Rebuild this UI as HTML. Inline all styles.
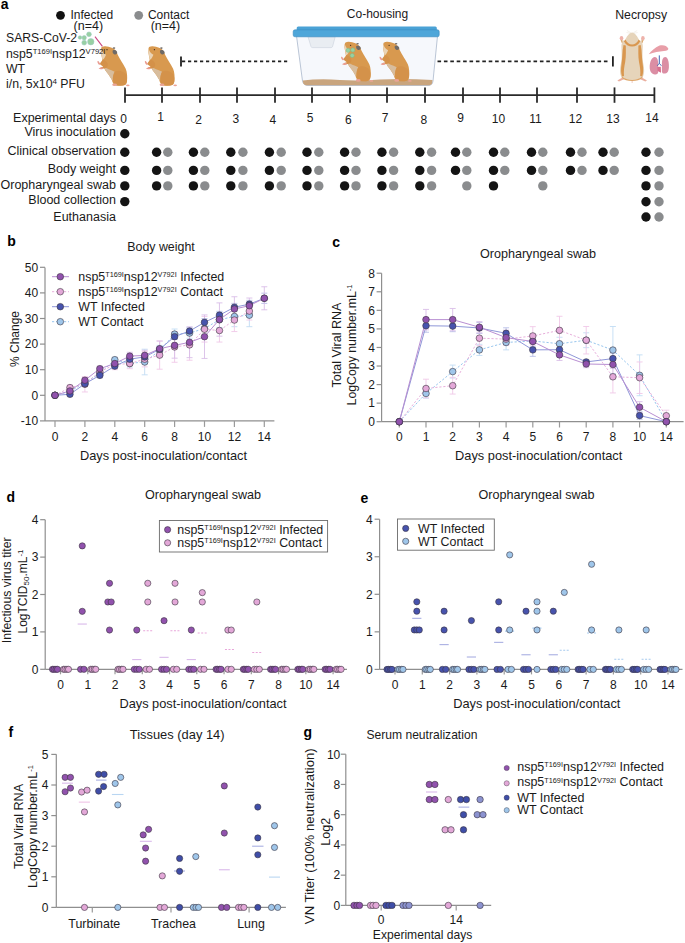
<!DOCTYPE html>
<html><head><meta charset="utf-8"><style>
html,body{margin:0;padding:0;background:#fff;}
svg{display:block;}
text{font-family:"Liberation Sans", sans-serif;}
</style></head><body>
<svg width="685" height="943" viewBox="0 0 685 943">
<rect width="685" height="943" fill="#fff"/>
<g transform="translate(97.2,46.2)">
<path d="M4.4,0.9 C5.5,0.2 7,-0.1 8,0 C10.5,0.2 12.5,0.6 14.5,1.5 C17.5,2.5 19.5,5 20.5,8.5 C22.5,12.5 26,17.5 28.5,22.5 C30,26 30.2,31 29.8,35 C29.5,38 28,39.2 25,39.4 L19,39.3 C16.5,39 15.2,36.5 14.6,33.6 C13,30.5 10.5,27 8.2,24.2 C6.5,21.5 5.5,18.5 5.3,15.5 C5,12.5 4.4,10 4,7.5 C3.6,5 3.5,3 4.4,0.9 Z" fill="#d8994f"/>
<path d="M6.8,21 C9.5,22 13,23.5 17.5,25.5 C16,28 15.5,31 15.5,34 C15,34.5 14.8,34 14.6,33.6 C13,30.5 10.5,27 8.2,24.2 Z" fill="#d8bd9d"/>
<path d="M3.8,2 C4.5,4.5 6,7 8.8,8.5 C8,10.5 7,12.5 5.3,13.7 C5,12.5 4.6,10 4.1,7.5 C3.7,5 3.5,3.5 3.8,2 Z" fill="#ead3b5"/>
<path d="M17.5,25.5 C21,23.5 26,24.5 28.5,28 C30.5,31.5 30,36.5 28,38.6 C25,40 20,39.8 17.2,38.3 C15.5,36 15.3,30 17.5,25.5 Z" fill="#d4924a"/>
<path d="M5.5,13.5 C7.5,13.5 9.5,15 10.5,17.5 C11,20 9.5,22 7,22.3 L3.5,22.6 L3.3,21.3 L6,20.5 L2.5,17.8 L3.2,16.5 Z" fill="#d49149"/>
<path d="M0.3,15 C1,14.6 1.6,15.2 2,16 L3.4,17.8 C2.8,18.7 2,18.7 1.5,18.2 C0.8,17.3 0,16 0.3,15 Z" fill="#e99c90"/>
<path d="M1.3,22.4 C2.3,21.4 4,21 5.8,21.3 L5.8,22.7 C4,23.3 2.5,23.3 1.3,22.4 Z" fill="#e99c90"/>
<ellipse cx="17.4" cy="38.6" rx="2.4" ry="1.3" fill="#e9a497"/>
<ellipse cx="30.6" cy="39.1" rx="1.8" ry="0.9" fill="#e9a497"/>
<path d="M15.5,4.3 C17,3.4 19,3.8 19.9,5.8 C20.3,7.6 19,8.5 17.3,8.2 C15.7,7.8 15,6 15.5,4.3 Z" fill="#6f6a66"/>
<ellipse cx="16.8" cy="1.9" rx="1.3" ry="0.8" fill="#6f6a66"/>
<circle cx="9.8" cy="3.5" r="0.65" fill="#3a2a20"/>
</g>
<g transform="translate(144.6,46.2)">
<path d="M4.4,0.9 C5.5,0.2 7,-0.1 8,0 C10.5,0.2 12.5,0.6 14.5,1.5 C17.5,2.5 19.5,5 20.5,8.5 C22.5,12.5 26,17.5 28.5,22.5 C30,26 30.2,31 29.8,35 C29.5,38 28,39.2 25,39.4 L19,39.3 C16.5,39 15.2,36.5 14.6,33.6 C13,30.5 10.5,27 8.2,24.2 C6.5,21.5 5.5,18.5 5.3,15.5 C5,12.5 4.4,10 4,7.5 C3.6,5 3.5,3 4.4,0.9 Z" fill="#d8994f"/>
<path d="M6.8,21 C9.5,22 13,23.5 17.5,25.5 C16,28 15.5,31 15.5,34 C15,34.5 14.8,34 14.6,33.6 C13,30.5 10.5,27 8.2,24.2 Z" fill="#d8bd9d"/>
<path d="M3.8,2 C4.5,4.5 6,7 8.8,8.5 C8,10.5 7,12.5 5.3,13.7 C5,12.5 4.6,10 4.1,7.5 C3.7,5 3.5,3.5 3.8,2 Z" fill="#ead3b5"/>
<path d="M17.5,25.5 C21,23.5 26,24.5 28.5,28 C30.5,31.5 30,36.5 28,38.6 C25,40 20,39.8 17.2,38.3 C15.5,36 15.3,30 17.5,25.5 Z" fill="#d4924a"/>
<path d="M5.5,13.5 C7.5,13.5 9.5,15 10.5,17.5 C11,20 9.5,22 7,22.3 L3.5,22.6 L3.3,21.3 L6,20.5 L2.5,17.8 L3.2,16.5 Z" fill="#d49149"/>
<path d="M0.3,15 C1,14.6 1.6,15.2 2,16 L3.4,17.8 C2.8,18.7 2,18.7 1.5,18.2 C0.8,17.3 0,16 0.3,15 Z" fill="#e99c90"/>
<path d="M1.3,22.4 C2.3,21.4 4,21 5.8,21.3 L5.8,22.7 C4,23.3 2.5,23.3 1.3,22.4 Z" fill="#e99c90"/>
<ellipse cx="17.4" cy="38.6" rx="2.4" ry="1.3" fill="#e9a497"/>
<ellipse cx="30.6" cy="39.1" rx="1.8" ry="0.9" fill="#e9a497"/>
<path d="M15.5,4.3 C17,3.4 19,3.8 19.9,5.8 C20.3,7.6 19,8.5 17.3,8.2 C15.7,7.8 15,6 15.5,4.3 Z" fill="#6f6a66"/>
<ellipse cx="16.8" cy="1.9" rx="1.3" ry="0.8" fill="#6f6a66"/>
<circle cx="9.8" cy="3.5" r="0.65" fill="#3a2a20"/>
</g>
<text x="0.8" y="8.7" font-size="14" text-anchor="start" font-weight="bold" fill="#000" >a</text>
<circle cx="60.5" cy="15.3" r="4.4" fill="#111"/>
<text x="70.4" y="18.6" font-size="12" text-anchor="start" font-weight="normal" fill="#1a1a1a" >Infected</text>
<text x="73.6" y="29.5" font-size="12.5" text-anchor="start" font-weight="normal" fill="#1a1a1a" >(n=4)</text>
<circle cx="138.7" cy="15.3" r="4.4" fill="#8a8c8e"/>
<text x="147.9" y="18.6" font-size="12" text-anchor="start" font-weight="normal" fill="#1a1a1a" >Contact</text>
<text x="150.7" y="29.5" font-size="12.5" text-anchor="start" font-weight="normal" fill="#1a1a1a" >(n=4)</text>
<text x="6" y="41.6" font-size="12.2" text-anchor="start" font-weight="normal" fill="#1a1a1a" >SARS-CoV-2</text>
<text x="6" y="57.6" font-size="12.3" fill="#1a1a1a">nsp5<tspan dy="-3.7" font-size="7.6">T169I</tspan><tspan dy="3.7">nsp12</tspan><tspan dy="-3.7" font-size="7.6">V792I</tspan><tspan dy="3.7"></tspan></text>
<text x="6" y="73" font-size="12.3" text-anchor="start" font-weight="normal" fill="#1a1a1a" >WT</text>
<text x="6" y="88.1" font-size="12.3" fill="#1a1a1a">i/n, 5x10<tspan dy="-4.2" font-size="8">4</tspan><tspan dy="4.2"> PFU</tspan></text>
<text x="377.5" y="18.1" font-size="12" text-anchor="middle" font-weight="normal" fill="#1a1a1a" >Co-housing</text>
<text x="641.2" y="19.2" font-size="12.3" text-anchor="middle" font-weight="normal" fill="#1a1a1a" >Necropsy</text>
<circle cx="89" cy="34.3" r="2.4" fill="#98d0a2" stroke="#9cc9c4" stroke-width="0.5"/>
<circle cx="80" cy="37.5" r="1.8" fill="#98d0a2" stroke="#9cc9c4" stroke-width="0.5"/>
<circle cx="84.2" cy="37.7" r="2.2" fill="#98d0a2" stroke="#9cc9c4" stroke-width="0.5"/>
<circle cx="84.2" cy="42.7" r="2.4" fill="#98d0a2" stroke="#9cc9c4" stroke-width="0.5"/>
<circle cx="90.8" cy="41.7" r="3.2" fill="#98d0a2" stroke="#9cc9c4" stroke-width="0.5"/>
<line x1="95.00" y1="36.70" x2="102.40" y2="46.40" stroke="#c9457f" stroke-width="1.1" />
<line x1="181.00" y1="56.40" x2="181.00" y2="66.40" stroke="#222" stroke-width="1.8" />
<line x1="182.00" y1="61.30" x2="289.00" y2="61.30" stroke="#222" stroke-width="1.8" stroke-dasharray="3.2 2.8"/>
<line x1="437.50" y1="61.40" x2="610.00" y2="61.40" stroke="#222" stroke-width="1.8" stroke-dasharray="3.6 2.8"/>
<line x1="612.90" y1="56.20" x2="612.90" y2="66.60" stroke="#222" stroke-width="1.8" />
<path d="M296.5,36 L302.5,81 Q303.5,85.5 308,85.5 L428,85.5 Q432.5,85.5 433,81 L437.5,36 Z" fill="#f6f8fc" stroke="#a9b8cc" stroke-width="0.8"/>
<path d="M308,36.8 L335.2,36.8 L332.5,46.8 Q332,47.6 331,47.6 L312.5,47.6 Q311.3,47.6 311,46.6 Z" fill="#e9edf2" stroke="#c3cbd6" stroke-width="0.5"/>
<path d="M302.8,80.5 Q320,78.5 340,80 Q360,81 380,79.5 Q405,78.5 432.5,80 L432,83.5 Q431.5,85.3 428,85.3 L308,85.3 Q303.7,85.3 303.2,83 Z" fill="#c9a57e"/>
<rect x="296.7" y="26.5" width="140.1" height="5" rx="1.5" fill="#4aa2d6"/>
<rect x="293.2" y="29.8" width="146" height="7" rx="1.8" fill="#4ea6d9" stroke="#3b8cc0" stroke-width="0.6"/>
<g transform="translate(340.8,41.8)">
<path d="M4.4,0.9 C5.5,0.2 7,-0.1 8,0 C10.5,0.2 12.5,0.6 14.5,1.5 C17.5,2.5 19.5,5 20.5,8.5 C22.5,12.5 26,17.5 28.5,22.5 C30,26 30.2,31 29.8,35 C29.5,38 28,39.2 25,39.4 L19,39.3 C16.5,39 15.2,36.5 14.6,33.6 C13,30.5 10.5,27 8.2,24.2 C6.5,21.5 5.5,18.5 5.3,15.5 C5,12.5 4.4,10 4,7.5 C3.6,5 3.5,3 4.4,0.9 Z" fill="#d8994f"/>
<path d="M6.8,21 C9.5,22 13,23.5 17.5,25.5 C16,28 15.5,31 15.5,34 C15,34.5 14.8,34 14.6,33.6 C13,30.5 10.5,27 8.2,24.2 Z" fill="#d8bd9d"/>
<path d="M3.8,2 C4.5,4.5 6,7 8.8,8.5 C8,10.5 7,12.5 5.3,13.7 C5,12.5 4.6,10 4.1,7.5 C3.7,5 3.5,3.5 3.8,2 Z" fill="#ead3b5"/>
<path d="M17.5,25.5 C21,23.5 26,24.5 28.5,28 C30.5,31.5 30,36.5 28,38.6 C25,40 20,39.8 17.2,38.3 C15.5,36 15.3,30 17.5,25.5 Z" fill="#d4924a"/>
<path d="M5.5,13.5 C7.5,13.5 9.5,15 10.5,17.5 C11,20 9.5,22 7,22.3 L3.5,22.6 L3.3,21.3 L6,20.5 L2.5,17.8 L3.2,16.5 Z" fill="#d49149"/>
<path d="M0.3,15 C1,14.6 1.6,15.2 2,16 L3.4,17.8 C2.8,18.7 2,18.7 1.5,18.2 C0.8,17.3 0,16 0.3,15 Z" fill="#e99c90"/>
<path d="M1.3,22.4 C2.3,21.4 4,21 5.8,21.3 L5.8,22.7 C4,23.3 2.5,23.3 1.3,22.4 Z" fill="#e99c90"/>
<ellipse cx="17.4" cy="38.6" rx="2.4" ry="1.3" fill="#e9a497"/>
<ellipse cx="30.6" cy="39.1" rx="1.8" ry="0.9" fill="#e9a497"/>
<path d="M15.5,4.3 C17,3.4 19,3.8 19.9,5.8 C20.3,7.6 19,8.5 17.3,8.2 C15.7,7.8 15,6 15.5,4.3 Z" fill="#6f6a66"/>
<ellipse cx="16.8" cy="1.9" rx="1.3" ry="0.8" fill="#6f6a66"/>
<circle cx="9.8" cy="3.5" r="0.65" fill="#3a2a20"/>
</g>
<g transform="translate(379.3,41.8)">
<path d="M4.4,0.9 C5.5,0.2 7,-0.1 8,0 C10.5,0.2 12.5,0.6 14.5,1.5 C17.5,2.5 19.5,5 20.5,8.5 C22.5,12.5 26,17.5 28.5,22.5 C30,26 30.2,31 29.8,35 C29.5,38 28,39.2 25,39.4 L19,39.3 C16.5,39 15.2,36.5 14.6,33.6 C13,30.5 10.5,27 8.2,24.2 C6.5,21.5 5.5,18.5 5.3,15.5 C5,12.5 4.4,10 4,7.5 C3.6,5 3.5,3 4.4,0.9 Z" fill="#d8994f"/>
<path d="M6.8,21 C9.5,22 13,23.5 17.5,25.5 C16,28 15.5,31 15.5,34 C15,34.5 14.8,34 14.6,33.6 C13,30.5 10.5,27 8.2,24.2 Z" fill="#d8bd9d"/>
<path d="M3.8,2 C4.5,4.5 6,7 8.8,8.5 C8,10.5 7,12.5 5.3,13.7 C5,12.5 4.6,10 4.1,7.5 C3.7,5 3.5,3.5 3.8,2 Z" fill="#ead3b5"/>
<path d="M17.5,25.5 C21,23.5 26,24.5 28.5,28 C30.5,31.5 30,36.5 28,38.6 C25,40 20,39.8 17.2,38.3 C15.5,36 15.3,30 17.5,25.5 Z" fill="#d4924a"/>
<path d="M5.5,13.5 C7.5,13.5 9.5,15 10.5,17.5 C11,20 9.5,22 7,22.3 L3.5,22.6 L3.3,21.3 L6,20.5 L2.5,17.8 L3.2,16.5 Z" fill="#d49149"/>
<path d="M0.3,15 C1,14.6 1.6,15.2 2,16 L3.4,17.8 C2.8,18.7 2,18.7 1.5,18.2 C0.8,17.3 0,16 0.3,15 Z" fill="#e99c90"/>
<path d="M1.3,22.4 C2.3,21.4 4,21 5.8,21.3 L5.8,22.7 C4,23.3 2.5,23.3 1.3,22.4 Z" fill="#e99c90"/>
<ellipse cx="17.4" cy="38.6" rx="2.4" ry="1.3" fill="#e9a497"/>
<ellipse cx="30.6" cy="39.1" rx="1.8" ry="0.9" fill="#e9a497"/>
<path d="M15.5,4.3 C17,3.4 19,3.8 19.9,5.8 C20.3,7.6 19,8.5 17.3,8.2 C15.7,7.8 15,6 15.5,4.3 Z" fill="#6f6a66"/>
<ellipse cx="16.8" cy="1.9" rx="1.3" ry="0.8" fill="#6f6a66"/>
<circle cx="9.8" cy="3.5" r="0.65" fill="#3a2a20"/>
</g>
<circle cx="348.1" cy="50.3" r="2.1" fill="#98d0a2" stroke="#78bb8a" stroke-width="0.5"/>
<circle cx="352.8" cy="50" r="2.1" fill="#98d0a2" stroke="#78bb8a" stroke-width="0.5"/>
<circle cx="352.2" cy="55.5" r="2.1" fill="#98d0a2" stroke="#78bb8a" stroke-width="0.5"/>
<g>
<path d="M617.3,80.5 L622.5,77.5 L624,79.2 L619,81.6 Z" fill="#eab0a0"/>
<path d="M647,80.5 L641.8,77.5 L640.3,79.2 L645.3,81.6 Z" fill="#eab0a0"/>
<path d="M632.1,79 L631.6,82.7 L632.6,82.7 Z" fill="#eab0a0"/>
<path d="M623.8,44 L621.6,39.5 M640.4,44 L642.6,39.5" stroke="#e6d4ba" stroke-width="2.6" fill="none"/>
<path d="M622.6,43.5 L621,39.5 M641.6,43.5 L643.2,39.5" stroke="#d9974f" stroke-width="0.8" fill="none"/>
<ellipse cx="621.5" cy="38.2" rx="1.8" ry="2.1" fill="#eeb2aa"/>
<ellipse cx="642.9" cy="38.2" rx="1.8" ry="2.1" fill="#eeb2aa"/>
<path d="M632.1,32.4 C634.8,32.6 637.8,36.5 639.2,40.5 C641.5,41.5 642.8,43 642.8,46 C642.6,52 642.2,56 643,62 C644.3,68 644.8,73 643,76.5 C641,79 637,80 632.1,80.3 C627.2,80 623.2,79 621.2,76.5 C619.4,73 619.9,68 621.2,62 C622,56 621.6,52 621.4,46 C621.4,43 622.7,41.5 625,40.5 C626.4,36.5 629.4,32.6 632.1,32.4 Z" fill="#e6d4ba"/>
<path d="M623.5,45 C622,52 622.5,58 621.5,64 C620.8,69 620.8,73 622,76.5 L624,76 C623.5,71 624.2,67 625.2,62 C626.2,56 625.8,50 625.8,45.5 Z" fill="#d9974f"/>
<path d="M640.7,45 C642.2,52 641.7,58 642.7,64 C643.4,69 643.4,73 642.2,76.5 L640.2,76 C640.7,71 640,67 639,62 C638,56 638.4,50 638.4,45.5 Z" fill="#d9974f"/>
<path d="M625.5,39.5 C627,43 629.5,44.6 632.1,44.6 C634.7,44.6 637.2,43 638.7,39.5 L640.3,41.2 C638.7,44.8 635.5,46.4 632.1,46.4 C628.7,46.4 625.5,44.8 623.9,41.2 Z" fill="#d9974f"/>
<path d="M621.8,76.5 C624.5,79 628,79.8 632.1,80 C636.2,79.8 639.7,79 642.4,76.5 L642.6,77.5 C640.2,80.2 636.5,81 632.1,81.1 C627.7,81 624,80.2 621.6,77.5 Z" fill="#dda466"/>
<path d="M627,30.5 L631,32.8 M637.2,30.5 L633.2,32.8 M626.5,32.5 L630.8,33.4 M637.7,32.5 L633.4,33.4" stroke="#e6dccc" stroke-width="0.4"/>
</g>
<g>
<path d="M648.8,54.3 C651,51 655,47.5 659.5,45.5 C663,44.5 667,45.5 668.3,48.5 C668.5,50 667,50.8 664,51 C659,51.3 654,52.5 648.8,54.3 Z" fill="#e89ea8"/>
<path d="M654.9,56.9 C657.2,56.9 658.2,60 658.2,64 L658.2,72 C658,74 656.5,74.6 654.9,74.4 C651.5,74 649.7,71 649.7,67.4 C649.7,62 651.5,57 654.9,56.9 Z" fill="#db8ea4"/>
<path d="M665.2,56.9 C662.9,56.9 661.9,60 661.9,64 L661.9,71.5 C662.2,73.5 663.5,73.8 665.2,73.5 C668,73 668.9,70 668.9,66.5 C668.9,61 667.8,57 665.2,56.9 Z" fill="#db8ea4"/>
<path d="M657.4,67 L660.8,66.8 L661,72.7 L657.6,71 Z" fill="#d8708e"/>
<line x1="659.3" y1="55.4" x2="659.3" y2="63.5" stroke="#3d65b5" stroke-width="1"/>
<path d="M659.3,63.3 L657.2,65.8 M659.3,63.3 L661.4,65.8" stroke="#3d65b5" stroke-width="0.9" fill="none"/>
</g>
<line x1="125.00" y1="95.10" x2="654.40" y2="95.10" stroke="#2a2a2a" stroke-width="1.8" />
<line x1="125.00" y1="87.40" x2="125.00" y2="102.80" stroke="#2a2a2a" stroke-width="1.8" />
<line x1="162.00" y1="87.40" x2="162.00" y2="102.80" stroke="#2a2a2a" stroke-width="1.8" />
<line x1="200.00" y1="87.40" x2="200.00" y2="102.80" stroke="#2a2a2a" stroke-width="1.8" />
<line x1="237.00" y1="87.40" x2="237.00" y2="102.80" stroke="#2a2a2a" stroke-width="1.8" />
<line x1="275.00" y1="87.40" x2="275.00" y2="102.80" stroke="#2a2a2a" stroke-width="1.8" />
<line x1="312.00" y1="87.40" x2="312.00" y2="102.80" stroke="#2a2a2a" stroke-width="1.8" />
<line x1="350.00" y1="87.40" x2="350.00" y2="102.80" stroke="#2a2a2a" stroke-width="1.8" />
<line x1="387.00" y1="87.40" x2="387.00" y2="102.80" stroke="#2a2a2a" stroke-width="1.8" />
<line x1="425.00" y1="87.40" x2="425.00" y2="102.80" stroke="#2a2a2a" stroke-width="1.8" />
<line x1="463.00" y1="87.40" x2="463.00" y2="102.80" stroke="#2a2a2a" stroke-width="1.8" />
<line x1="500.00" y1="87.40" x2="500.00" y2="102.80" stroke="#2a2a2a" stroke-width="1.8" />
<line x1="537.00" y1="87.40" x2="537.00" y2="102.80" stroke="#2a2a2a" stroke-width="1.8" />
<line x1="577.00" y1="87.40" x2="577.00" y2="102.80" stroke="#2a2a2a" stroke-width="1.8" />
<line x1="614.50" y1="87.40" x2="614.50" y2="102.80" stroke="#2a2a2a" stroke-width="1.8" />
<line x1="654.40" y1="87.40" x2="654.40" y2="102.80" stroke="#2a2a2a" stroke-width="1.8" />
<text x="123.5" y="123.2" font-size="12" text-anchor="middle" font-weight="normal" fill="#1a1a1a" >0</text>
<text x="160.5" y="121" font-size="12" text-anchor="middle" font-weight="normal" fill="#1a1a1a" >1</text>
<text x="198.7" y="124" font-size="12" text-anchor="middle" font-weight="normal" fill="#1a1a1a" >2</text>
<text x="235.8" y="122.5" font-size="12" text-anchor="middle" font-weight="normal" fill="#1a1a1a" >3</text>
<text x="272.8" y="123.8" font-size="12" text-anchor="middle" font-weight="normal" fill="#1a1a1a" >4</text>
<text x="310" y="121.8" font-size="12" text-anchor="middle" font-weight="normal" fill="#1a1a1a" >5</text>
<text x="348.3" y="124" font-size="12" text-anchor="middle" font-weight="normal" fill="#1a1a1a" >6</text>
<text x="385.2" y="121.5" font-size="12" text-anchor="middle" font-weight="normal" fill="#1a1a1a" >7</text>
<text x="423.9" y="123.5" font-size="12" text-anchor="middle" font-weight="normal" fill="#1a1a1a" >8</text>
<text x="460.5" y="121.5" font-size="12" text-anchor="middle" font-weight="normal" fill="#1a1a1a" >9</text>
<text x="498.5" y="123" font-size="12" text-anchor="middle" font-weight="normal" fill="#1a1a1a" >10</text>
<text x="535.5" y="123" font-size="12" text-anchor="middle" font-weight="normal" fill="#1a1a1a" >11</text>
<text x="575.5" y="123" font-size="12" text-anchor="middle" font-weight="normal" fill="#1a1a1a" >12</text>
<text x="613" y="123" font-size="12" text-anchor="middle" font-weight="normal" fill="#1a1a1a" >13</text>
<text x="652" y="121.5" font-size="12" text-anchor="middle" font-weight="normal" fill="#1a1a1a" >14</text>
<text x="115.9" y="121.5" font-size="12.5" text-anchor="end" font-weight="normal" fill="#1a1a1a" >Experimental days</text>
<text x="115.9" y="135.8" font-size="12.5" text-anchor="end" font-weight="normal" fill="#1a1a1a" >Virus inoculation</text>
<text x="115.9" y="155" font-size="12.5" text-anchor="end" font-weight="normal" fill="#1a1a1a" >Clinical observation</text>
<text x="115.9" y="172.8" font-size="12.5" text-anchor="end" font-weight="normal" fill="#1a1a1a" >Body weight</text>
<text x="115.9" y="189.3" font-size="12.5" text-anchor="end" font-weight="normal" fill="#1a1a1a" >Oropharyngeal swab</text>
<text x="115.9" y="204" font-size="12.5" text-anchor="end" font-weight="normal" fill="#1a1a1a" >Blood collection</text>
<text x="115.9" y="220.8" font-size="12.5" text-anchor="end" font-weight="normal" fill="#1a1a1a" >Euthanasia</text>
<circle cx="124.8" cy="133.7" r="4.7" fill="#141414"/>
<circle cx="124.8" cy="152.2" r="4.7" fill="#141414"/>
<circle cx="124.8" cy="170.4" r="4.7" fill="#141414"/>
<circle cx="124.8" cy="185.9" r="4.7" fill="#141414"/>
<circle cx="124.8" cy="201.6" r="4.7" fill="#141414"/>
<circle cx="156.6" cy="152.2" r="4.7" fill="#141414"/>
<circle cx="167.8" cy="152.2" r="4.7" fill="#8a8c8e"/>
<circle cx="156.6" cy="170.4" r="4.7" fill="#141414"/>
<circle cx="167.8" cy="170.4" r="4.7" fill="#8a8c8e"/>
<circle cx="156.6" cy="185.9" r="4.7" fill="#141414"/>
<circle cx="167.8" cy="185.9" r="4.7" fill="#8a8c8e"/>
<circle cx="193.4" cy="152.2" r="4.7" fill="#141414"/>
<circle cx="204.8" cy="152.2" r="4.7" fill="#8a8c8e"/>
<circle cx="193.4" cy="170.4" r="4.7" fill="#141414"/>
<circle cx="204.8" cy="170.4" r="4.7" fill="#8a8c8e"/>
<circle cx="193.4" cy="185.9" r="4.7" fill="#141414"/>
<circle cx="204.8" cy="185.9" r="4.7" fill="#8a8c8e"/>
<circle cx="230.8" cy="152.2" r="4.7" fill="#141414"/>
<circle cx="242.9" cy="152.2" r="4.7" fill="#8a8c8e"/>
<circle cx="230.8" cy="170.4" r="4.7" fill="#141414"/>
<circle cx="242.9" cy="170.4" r="4.7" fill="#8a8c8e"/>
<circle cx="230.8" cy="185.9" r="4.7" fill="#141414"/>
<circle cx="242.9" cy="185.9" r="4.7" fill="#8a8c8e"/>
<circle cx="269.4" cy="152.2" r="4.7" fill="#141414"/>
<circle cx="281.2" cy="152.2" r="4.7" fill="#8a8c8e"/>
<circle cx="269.4" cy="170.4" r="4.7" fill="#141414"/>
<circle cx="281.2" cy="170.4" r="4.7" fill="#8a8c8e"/>
<circle cx="269.4" cy="185.9" r="4.7" fill="#141414"/>
<circle cx="281.2" cy="185.9" r="4.7" fill="#8a8c8e"/>
<circle cx="307" cy="152.2" r="4.7" fill="#141414"/>
<circle cx="318.8" cy="152.2" r="4.7" fill="#8a8c8e"/>
<circle cx="307" cy="170.4" r="4.7" fill="#141414"/>
<circle cx="318.8" cy="170.4" r="4.7" fill="#8a8c8e"/>
<circle cx="307" cy="185.9" r="4.7" fill="#141414"/>
<circle cx="318.8" cy="185.9" r="4.7" fill="#8a8c8e"/>
<circle cx="344.6" cy="152.2" r="4.7" fill="#141414"/>
<circle cx="356" cy="152.2" r="4.7" fill="#8a8c8e"/>
<circle cx="344.6" cy="170.4" r="4.7" fill="#141414"/>
<circle cx="356" cy="170.4" r="4.7" fill="#8a8c8e"/>
<circle cx="344.6" cy="185.9" r="4.7" fill="#141414"/>
<circle cx="356" cy="185.9" r="4.7" fill="#8a8c8e"/>
<circle cx="381.9" cy="152.2" r="4.7" fill="#141414"/>
<circle cx="393.6" cy="152.2" r="4.7" fill="#8a8c8e"/>
<circle cx="381.9" cy="170.4" r="4.7" fill="#141414"/>
<circle cx="393.6" cy="170.4" r="4.7" fill="#8a8c8e"/>
<circle cx="381.9" cy="185.9" r="4.7" fill="#141414"/>
<circle cx="393.6" cy="185.9" r="4.7" fill="#8a8c8e"/>
<circle cx="419.8" cy="152.2" r="4.7" fill="#141414"/>
<circle cx="431.6" cy="152.2" r="4.7" fill="#8a8c8e"/>
<circle cx="419.8" cy="170.4" r="4.7" fill="#141414"/>
<circle cx="431.6" cy="170.4" r="4.7" fill="#8a8c8e"/>
<circle cx="419.8" cy="185.9" r="4.7" fill="#141414"/>
<circle cx="431.6" cy="185.9" r="4.7" fill="#8a8c8e"/>
<circle cx="455.5" cy="152.2" r="4.7" fill="#141414"/>
<circle cx="466.8" cy="152.2" r="4.7" fill="#8a8c8e"/>
<circle cx="455.5" cy="170.4" r="4.7" fill="#141414"/>
<circle cx="466.8" cy="170.4" r="4.7" fill="#8a8c8e"/>
<circle cx="466.8" cy="185.9" r="4.7" fill="#8a8c8e"/>
<circle cx="493.5" cy="152.2" r="4.7" fill="#141414"/>
<circle cx="504.8" cy="152.2" r="4.7" fill="#8a8c8e"/>
<circle cx="493.5" cy="170.4" r="4.7" fill="#141414"/>
<circle cx="504.8" cy="170.4" r="4.7" fill="#8a8c8e"/>
<circle cx="493.5" cy="185.9" r="4.7" fill="#141414"/>
<circle cx="531.5" cy="152.2" r="4.7" fill="#141414"/>
<circle cx="542.8" cy="152.2" r="4.7" fill="#8a8c8e"/>
<circle cx="531.5" cy="170.4" r="4.7" fill="#141414"/>
<circle cx="542.8" cy="170.4" r="4.7" fill="#8a8c8e"/>
<circle cx="542.8" cy="185.9" r="4.7" fill="#8a8c8e"/>
<circle cx="570.5" cy="152.2" r="4.7" fill="#141414"/>
<circle cx="582" cy="152.2" r="4.7" fill="#8a8c8e"/>
<circle cx="570.5" cy="170.4" r="4.7" fill="#141414"/>
<circle cx="582" cy="170.4" r="4.7" fill="#8a8c8e"/>
<circle cx="603" cy="152.2" r="4.7" fill="#141414"/>
<circle cx="614.2" cy="152.2" r="4.7" fill="#8a8c8e"/>
<circle cx="603" cy="170.4" r="4.7" fill="#141414"/>
<circle cx="614.2" cy="170.4" r="4.7" fill="#8a8c8e"/>
<circle cx="646" cy="152.2" r="4.7" fill="#141414"/>
<circle cx="659" cy="152.2" r="4.7" fill="#8a8c8e"/>
<circle cx="646" cy="170.4" r="4.7" fill="#141414"/>
<circle cx="659" cy="170.4" r="4.7" fill="#8a8c8e"/>
<circle cx="646" cy="185.9" r="4.7" fill="#141414"/>
<circle cx="659" cy="185.9" r="4.7" fill="#8a8c8e"/>
<circle cx="646" cy="201.8" r="4.7" fill="#141414"/>
<circle cx="659" cy="201.8" r="4.7" fill="#8a8c8e"/>
<circle cx="646" cy="217" r="4.7" fill="#141414"/>
<circle cx="659" cy="217" r="4.7" fill="#8a8c8e"/>
<text x="7.2" y="246.3" font-size="14" text-anchor="start" font-weight="bold" fill="#000" >b</text>
<text x="161" y="251" font-size="12.4" text-anchor="middle" font-weight="normal" fill="#1a1a1a" >Body weight</text>
<line x1="45.00" y1="267.40" x2="45.00" y2="420.90" stroke="#8f8f8f" stroke-width="1.2" />
<line x1="40.00" y1="267.30" x2="45.00" y2="267.30" stroke="#8f8f8f" stroke-width="1.2" />
<text x="38.2" y="271.6" font-size="12" text-anchor="end" font-weight="normal" fill="#1a1a1a" >50</text>
<line x1="40.00" y1="292.90" x2="45.00" y2="292.90" stroke="#8f8f8f" stroke-width="1.2" />
<text x="38.2" y="297.2" font-size="12" text-anchor="end" font-weight="normal" fill="#1a1a1a" >40</text>
<line x1="40.00" y1="318.50" x2="45.00" y2="318.50" stroke="#8f8f8f" stroke-width="1.2" />
<text x="38.2" y="322.8" font-size="12" text-anchor="end" font-weight="normal" fill="#1a1a1a" >30</text>
<line x1="40.00" y1="344.10" x2="45.00" y2="344.10" stroke="#8f8f8f" stroke-width="1.2" />
<text x="38.2" y="348.40000000000003" font-size="12" text-anchor="end" font-weight="normal" fill="#1a1a1a" >20</text>
<line x1="40.00" y1="369.70" x2="45.00" y2="369.70" stroke="#8f8f8f" stroke-width="1.2" />
<text x="38.2" y="374.0" font-size="12" text-anchor="end" font-weight="normal" fill="#1a1a1a" >10</text>
<line x1="40.00" y1="395.30" x2="45.00" y2="395.30" stroke="#8f8f8f" stroke-width="1.2" />
<text x="38.2" y="399.6" font-size="12" text-anchor="end" font-weight="normal" fill="#1a1a1a" >0</text>
<line x1="40.00" y1="420.90" x2="45.00" y2="420.90" stroke="#8f8f8f" stroke-width="1.2" />
<text x="38.2" y="425.20000000000005" font-size="12" text-anchor="end" font-weight="normal" fill="#1a1a1a" >-10</text>
<line x1="45.00" y1="420.90" x2="274.40" y2="420.90" stroke="#8f8f8f" stroke-width="1.2" />
<line x1="55.00" y1="420.90" x2="55.00" y2="426.90" stroke="#9a9a9a" stroke-width="1.2" />
<text x="55.0" y="440.8" font-size="12" text-anchor="middle" font-weight="normal" fill="#1a1a1a" >0</text>
<line x1="84.90" y1="420.90" x2="84.90" y2="426.90" stroke="#9a9a9a" stroke-width="1.2" />
<text x="84.9" y="440.8" font-size="12" text-anchor="middle" font-weight="normal" fill="#1a1a1a" >2</text>
<line x1="114.80" y1="420.90" x2="114.80" y2="426.90" stroke="#9a9a9a" stroke-width="1.2" />
<text x="114.8" y="440.8" font-size="12" text-anchor="middle" font-weight="normal" fill="#1a1a1a" >4</text>
<line x1="144.70" y1="420.90" x2="144.70" y2="426.90" stroke="#9a9a9a" stroke-width="1.2" />
<text x="144.7" y="440.8" font-size="12" text-anchor="middle" font-weight="normal" fill="#1a1a1a" >6</text>
<line x1="174.60" y1="420.90" x2="174.60" y2="426.90" stroke="#9a9a9a" stroke-width="1.2" />
<text x="174.6" y="440.8" font-size="12" text-anchor="middle" font-weight="normal" fill="#1a1a1a" >8</text>
<line x1="204.50" y1="420.90" x2="204.50" y2="426.90" stroke="#9a9a9a" stroke-width="1.2" />
<text x="204.5" y="440.8" font-size="12" text-anchor="middle" font-weight="normal" fill="#1a1a1a" >10</text>
<line x1="234.40" y1="420.90" x2="234.40" y2="426.90" stroke="#9a9a9a" stroke-width="1.2" />
<text x="234.39999999999998" y="440.8" font-size="12" text-anchor="middle" font-weight="normal" fill="#1a1a1a" >12</text>
<line x1="264.30" y1="420.90" x2="264.30" y2="426.90" stroke="#9a9a9a" stroke-width="1.2" />
<text x="264.29999999999995" y="440.8" font-size="12" text-anchor="middle" font-weight="normal" fill="#1a1a1a" >14</text>
<text x="14.5" y="339" font-size="12" text-anchor="middle" transform="rotate(-90 14.5 339)" dy="4.3" fill="#1a1a1a">% Change</text>
<text x="163.5" y="459.7" font-size="12.8" text-anchor="middle" font-weight="normal" fill="#1a1a1a" >Days post-inoculation/contact</text>
<line x1="69.95" y1="388.90" x2="69.95" y2="394.02" stroke="#c2dcf4" stroke-width="0.9" />
<line x1="66.95" y1="388.90" x2="72.95" y2="388.90" stroke="#c2dcf4" stroke-width="0.9" />
<line x1="66.95" y1="394.02" x2="72.95" y2="394.02" stroke="#c2dcf4" stroke-width="0.9" />
<line x1="84.90" y1="379.94" x2="84.90" y2="385.06" stroke="#c2dcf4" stroke-width="0.9" />
<line x1="81.90" y1="379.94" x2="87.90" y2="379.94" stroke="#c2dcf4" stroke-width="0.9" />
<line x1="81.90" y1="385.06" x2="87.90" y2="385.06" stroke="#c2dcf4" stroke-width="0.9" />
<line x1="99.85" y1="370.98" x2="99.85" y2="376.10" stroke="#c2dcf4" stroke-width="0.9" />
<line x1="96.85" y1="370.98" x2="102.85" y2="370.98" stroke="#c2dcf4" stroke-width="0.9" />
<line x1="96.85" y1="376.10" x2="102.85" y2="376.10" stroke="#c2dcf4" stroke-width="0.9" />
<line x1="114.80" y1="357.16" x2="114.80" y2="362.28" stroke="#c2dcf4" stroke-width="0.9" />
<line x1="111.80" y1="357.16" x2="117.80" y2="357.16" stroke="#c2dcf4" stroke-width="0.9" />
<line x1="111.80" y1="362.28" x2="117.80" y2="362.28" stroke="#c2dcf4" stroke-width="0.9" />
<line x1="129.75" y1="359.46" x2="129.75" y2="367.14" stroke="#c2dcf4" stroke-width="0.9" />
<line x1="126.75" y1="359.46" x2="132.75" y2="359.46" stroke="#c2dcf4" stroke-width="0.9" />
<line x1="126.75" y1="367.14" x2="132.75" y2="367.14" stroke="#c2dcf4" stroke-width="0.9" />
<line x1="144.70" y1="349.22" x2="144.70" y2="374.82" stroke="#c2dcf4" stroke-width="0.9" />
<line x1="141.70" y1="349.22" x2="147.70" y2="349.22" stroke="#c2dcf4" stroke-width="0.9" />
<line x1="141.70" y1="374.82" x2="147.70" y2="374.82" stroke="#c2dcf4" stroke-width="0.9" />
<line x1="159.65" y1="345.38" x2="159.65" y2="355.62" stroke="#c2dcf4" stroke-width="0.9" />
<line x1="156.65" y1="345.38" x2="162.65" y2="345.38" stroke="#c2dcf4" stroke-width="0.9" />
<line x1="156.65" y1="355.62" x2="162.65" y2="355.62" stroke="#c2dcf4" stroke-width="0.9" />
<line x1="174.60" y1="329.00" x2="174.60" y2="339.24" stroke="#c2dcf4" stroke-width="0.9" />
<line x1="171.60" y1="329.00" x2="177.60" y2="329.00" stroke="#c2dcf4" stroke-width="0.9" />
<line x1="171.60" y1="339.24" x2="177.60" y2="339.24" stroke="#c2dcf4" stroke-width="0.9" />
<line x1="189.55" y1="327.97" x2="189.55" y2="338.21" stroke="#c2dcf4" stroke-width="0.9" />
<line x1="186.55" y1="327.97" x2="192.55" y2="327.97" stroke="#c2dcf4" stroke-width="0.9" />
<line x1="186.55" y1="338.21" x2="192.55" y2="338.21" stroke="#c2dcf4" stroke-width="0.9" />
<line x1="204.50" y1="320.80" x2="204.50" y2="336.16" stroke="#c2dcf4" stroke-width="0.9" />
<line x1="201.50" y1="320.80" x2="207.50" y2="320.80" stroke="#c2dcf4" stroke-width="0.9" />
<line x1="201.50" y1="336.16" x2="207.50" y2="336.16" stroke="#c2dcf4" stroke-width="0.9" />
<line x1="219.45" y1="312.10" x2="219.45" y2="327.46" stroke="#c2dcf4" stroke-width="0.9" />
<line x1="216.45" y1="312.10" x2="222.45" y2="312.10" stroke="#c2dcf4" stroke-width="0.9" />
<line x1="216.45" y1="327.46" x2="222.45" y2="327.46" stroke="#c2dcf4" stroke-width="0.9" />
<line x1="234.40" y1="306.21" x2="234.40" y2="326.69" stroke="#c2dcf4" stroke-width="0.9" />
<line x1="231.40" y1="306.21" x2="237.40" y2="306.21" stroke="#c2dcf4" stroke-width="0.9" />
<line x1="231.40" y1="326.69" x2="237.40" y2="326.69" stroke="#c2dcf4" stroke-width="0.9" />
<line x1="249.35" y1="303.65" x2="249.35" y2="326.69" stroke="#c2dcf4" stroke-width="0.9" />
<line x1="246.35" y1="303.65" x2="252.35" y2="303.65" stroke="#c2dcf4" stroke-width="0.9" />
<line x1="246.35" y1="326.69" x2="252.35" y2="326.69" stroke="#c2dcf4" stroke-width="0.9" />
<polyline points="55.00,395.30 69.95,391.46 84.90,382.50 99.85,373.54 114.80,359.72 129.75,363.30 144.70,362.02 159.65,350.50 174.60,334.12 189.55,333.09 204.50,328.48 219.45,319.78 234.40,316.45 249.35,315.17" fill="none" stroke="#98c6ee" stroke-width="1" stroke-dasharray="2.2 1.8"/>
<line x1="69.95" y1="385.06" x2="69.95" y2="390.18" stroke="#f0c8e8" stroke-width="0.9" />
<line x1="66.95" y1="385.06" x2="72.95" y2="385.06" stroke="#f0c8e8" stroke-width="0.9" />
<line x1="66.95" y1="390.18" x2="72.95" y2="390.18" stroke="#f0c8e8" stroke-width="0.9" />
<line x1="84.90" y1="376.61" x2="84.90" y2="391.97" stroke="#f0c8e8" stroke-width="0.9" />
<line x1="81.90" y1="376.61" x2="87.90" y2="376.61" stroke="#f0c8e8" stroke-width="0.9" />
<line x1="81.90" y1="391.97" x2="87.90" y2="391.97" stroke="#f0c8e8" stroke-width="0.9" />
<line x1="99.85" y1="367.91" x2="99.85" y2="375.59" stroke="#f0c8e8" stroke-width="0.9" />
<line x1="96.85" y1="367.91" x2="102.85" y2="367.91" stroke="#f0c8e8" stroke-width="0.9" />
<line x1="96.85" y1="375.59" x2="102.85" y2="375.59" stroke="#f0c8e8" stroke-width="0.9" />
<line x1="114.80" y1="359.46" x2="114.80" y2="369.70" stroke="#f0c8e8" stroke-width="0.9" />
<line x1="111.80" y1="359.46" x2="117.80" y2="359.46" stroke="#f0c8e8" stroke-width="0.9" />
<line x1="111.80" y1="369.70" x2="117.80" y2="369.70" stroke="#f0c8e8" stroke-width="0.9" />
<line x1="129.75" y1="358.44" x2="129.75" y2="368.68" stroke="#f0c8e8" stroke-width="0.9" />
<line x1="126.75" y1="358.44" x2="132.75" y2="358.44" stroke="#f0c8e8" stroke-width="0.9" />
<line x1="126.75" y1="368.68" x2="132.75" y2="368.68" stroke="#f0c8e8" stroke-width="0.9" />
<line x1="144.70" y1="351.52" x2="144.70" y2="366.88" stroke="#f0c8e8" stroke-width="0.9" />
<line x1="141.70" y1="351.52" x2="147.70" y2="351.52" stroke="#f0c8e8" stroke-width="0.9" />
<line x1="141.70" y1="366.88" x2="147.70" y2="366.88" stroke="#f0c8e8" stroke-width="0.9" />
<line x1="159.65" y1="341.03" x2="159.65" y2="369.19" stroke="#f0c8e8" stroke-width="0.9" />
<line x1="156.65" y1="341.03" x2="162.65" y2="341.03" stroke="#f0c8e8" stroke-width="0.9" />
<line x1="156.65" y1="369.19" x2="162.65" y2="369.19" stroke="#f0c8e8" stroke-width="0.9" />
<line x1="174.60" y1="331.56" x2="174.60" y2="362.28" stroke="#f0c8e8" stroke-width="0.9" />
<line x1="171.60" y1="331.56" x2="177.60" y2="331.56" stroke="#f0c8e8" stroke-width="0.9" />
<line x1="171.60" y1="362.28" x2="177.60" y2="362.28" stroke="#f0c8e8" stroke-width="0.9" />
<line x1="189.55" y1="329.51" x2="189.55" y2="360.23" stroke="#f0c8e8" stroke-width="0.9" />
<line x1="186.55" y1="329.51" x2="192.55" y2="329.51" stroke="#f0c8e8" stroke-width="0.9" />
<line x1="186.55" y1="360.23" x2="192.55" y2="360.23" stroke="#f0c8e8" stroke-width="0.9" />
<line x1="204.50" y1="316.45" x2="204.50" y2="342.05" stroke="#f0c8e8" stroke-width="0.9" />
<line x1="201.50" y1="316.45" x2="207.50" y2="316.45" stroke="#f0c8e8" stroke-width="0.9" />
<line x1="201.50" y1="342.05" x2="207.50" y2="342.05" stroke="#f0c8e8" stroke-width="0.9" />
<line x1="219.45" y1="319.01" x2="219.45" y2="342.05" stroke="#f0c8e8" stroke-width="0.9" />
<line x1="216.45" y1="319.01" x2="222.45" y2="319.01" stroke="#f0c8e8" stroke-width="0.9" />
<line x1="216.45" y1="342.05" x2="222.45" y2="342.05" stroke="#f0c8e8" stroke-width="0.9" />
<line x1="234.40" y1="308.52" x2="234.40" y2="331.56" stroke="#f0c8e8" stroke-width="0.9" />
<line x1="231.40" y1="308.52" x2="237.40" y2="308.52" stroke="#f0c8e8" stroke-width="0.9" />
<line x1="231.40" y1="331.56" x2="237.40" y2="331.56" stroke="#f0c8e8" stroke-width="0.9" />
<line x1="249.35" y1="302.12" x2="249.35" y2="320.04" stroke="#f0c8e8" stroke-width="0.9" />
<line x1="246.35" y1="302.12" x2="252.35" y2="302.12" stroke="#f0c8e8" stroke-width="0.9" />
<line x1="246.35" y1="320.04" x2="252.35" y2="320.04" stroke="#f0c8e8" stroke-width="0.9" />
<polyline points="55.00,395.30 69.95,387.62 84.90,384.29 99.85,371.75 114.80,364.58 129.75,363.56 144.70,359.20 159.65,355.11 174.60,346.92 189.55,344.87 204.50,329.25 219.45,330.53 234.40,320.04 249.35,311.08" fill="none" stroke="#e8b0dc" stroke-width="1" stroke-dasharray="2.2 1.8"/>
<line x1="69.95" y1="393.00" x2="69.95" y2="395.56" stroke="#b9bfe8" stroke-width="0.9" />
<line x1="66.95" y1="393.00" x2="72.95" y2="393.00" stroke="#b9bfe8" stroke-width="0.9" />
<line x1="66.95" y1="395.56" x2="72.95" y2="395.56" stroke="#b9bfe8" stroke-width="0.9" />
<line x1="84.90" y1="381.22" x2="84.90" y2="386.34" stroke="#b9bfe8" stroke-width="0.9" />
<line x1="81.90" y1="381.22" x2="87.90" y2="381.22" stroke="#b9bfe8" stroke-width="0.9" />
<line x1="81.90" y1="386.34" x2="87.90" y2="386.34" stroke="#b9bfe8" stroke-width="0.9" />
<line x1="99.85" y1="372.77" x2="99.85" y2="377.89" stroke="#b9bfe8" stroke-width="0.9" />
<line x1="96.85" y1="372.77" x2="102.85" y2="372.77" stroke="#b9bfe8" stroke-width="0.9" />
<line x1="96.85" y1="377.89" x2="102.85" y2="377.89" stroke="#b9bfe8" stroke-width="0.9" />
<line x1="114.80" y1="363.56" x2="114.80" y2="368.68" stroke="#b9bfe8" stroke-width="0.9" />
<line x1="111.80" y1="363.56" x2="117.80" y2="363.56" stroke="#b9bfe8" stroke-width="0.9" />
<line x1="111.80" y1="368.68" x2="117.80" y2="368.68" stroke="#b9bfe8" stroke-width="0.9" />
<line x1="129.75" y1="356.64" x2="129.75" y2="361.76" stroke="#b9bfe8" stroke-width="0.9" />
<line x1="126.75" y1="356.64" x2="132.75" y2="356.64" stroke="#b9bfe8" stroke-width="0.9" />
<line x1="126.75" y1="361.76" x2="132.75" y2="361.76" stroke="#b9bfe8" stroke-width="0.9" />
<line x1="144.70" y1="354.34" x2="144.70" y2="359.46" stroke="#b9bfe8" stroke-width="0.9" />
<line x1="141.70" y1="354.34" x2="147.70" y2="354.34" stroke="#b9bfe8" stroke-width="0.9" />
<line x1="141.70" y1="359.46" x2="147.70" y2="359.46" stroke="#b9bfe8" stroke-width="0.9" />
<line x1="159.65" y1="346.66" x2="159.65" y2="351.78" stroke="#b9bfe8" stroke-width="0.9" />
<line x1="156.65" y1="346.66" x2="162.65" y2="346.66" stroke="#b9bfe8" stroke-width="0.9" />
<line x1="156.65" y1="351.78" x2="162.65" y2="351.78" stroke="#b9bfe8" stroke-width="0.9" />
<line x1="174.60" y1="334.12" x2="174.60" y2="339.24" stroke="#b9bfe8" stroke-width="0.9" />
<line x1="171.60" y1="334.12" x2="177.60" y2="334.12" stroke="#b9bfe8" stroke-width="0.9" />
<line x1="171.60" y1="339.24" x2="177.60" y2="339.24" stroke="#b9bfe8" stroke-width="0.9" />
<line x1="189.55" y1="327.20" x2="189.55" y2="334.88" stroke="#b9bfe8" stroke-width="0.9" />
<line x1="186.55" y1="327.20" x2="192.55" y2="327.20" stroke="#b9bfe8" stroke-width="0.9" />
<line x1="186.55" y1="334.88" x2="192.55" y2="334.88" stroke="#b9bfe8" stroke-width="0.9" />
<line x1="204.50" y1="318.50" x2="204.50" y2="326.18" stroke="#b9bfe8" stroke-width="0.9" />
<line x1="201.50" y1="318.50" x2="207.50" y2="318.50" stroke="#b9bfe8" stroke-width="0.9" />
<line x1="201.50" y1="326.18" x2="207.50" y2="326.18" stroke="#b9bfe8" stroke-width="0.9" />
<line x1="219.45" y1="311.33" x2="219.45" y2="319.01" stroke="#b9bfe8" stroke-width="0.9" />
<line x1="216.45" y1="311.33" x2="222.45" y2="311.33" stroke="#b9bfe8" stroke-width="0.9" />
<line x1="216.45" y1="319.01" x2="222.45" y2="319.01" stroke="#b9bfe8" stroke-width="0.9" />
<line x1="234.40" y1="303.40" x2="234.40" y2="311.08" stroke="#b9bfe8" stroke-width="0.9" />
<line x1="231.40" y1="303.40" x2="237.40" y2="303.40" stroke="#b9bfe8" stroke-width="0.9" />
<line x1="231.40" y1="311.08" x2="237.40" y2="311.08" stroke="#b9bfe8" stroke-width="0.9" />
<line x1="249.35" y1="300.32" x2="249.35" y2="308.00" stroke="#b9bfe8" stroke-width="0.9" />
<line x1="246.35" y1="300.32" x2="252.35" y2="300.32" stroke="#b9bfe8" stroke-width="0.9" />
<line x1="246.35" y1="308.00" x2="252.35" y2="308.00" stroke="#b9bfe8" stroke-width="0.9" />
<line x1="264.30" y1="293.16" x2="264.30" y2="303.40" stroke="#b9bfe8" stroke-width="0.9" />
<line x1="261.30" y1="293.16" x2="267.30" y2="293.16" stroke="#b9bfe8" stroke-width="0.9" />
<line x1="261.30" y1="303.40" x2="267.30" y2="303.40" stroke="#b9bfe8" stroke-width="0.9" />
<polyline points="55.00,395.30 69.95,394.28 84.90,383.78 99.85,375.33 114.80,366.12 129.75,359.20 144.70,356.90 159.65,349.22 174.60,336.68 189.55,331.04 204.50,322.34 219.45,315.17 234.40,307.24 249.35,304.16 264.30,298.28" fill="none" stroke="#8f97d8" stroke-width="1" />
<line x1="69.95" y1="389.41" x2="69.95" y2="392.48" stroke="#d9bde8" stroke-width="0.9" />
<line x1="66.95" y1="389.41" x2="72.95" y2="389.41" stroke="#d9bde8" stroke-width="0.9" />
<line x1="66.95" y1="392.48" x2="72.95" y2="392.48" stroke="#d9bde8" stroke-width="0.9" />
<line x1="84.90" y1="377.64" x2="84.90" y2="382.76" stroke="#d9bde8" stroke-width="0.9" />
<line x1="81.90" y1="377.64" x2="87.90" y2="377.64" stroke="#d9bde8" stroke-width="0.9" />
<line x1="81.90" y1="382.76" x2="87.90" y2="382.76" stroke="#d9bde8" stroke-width="0.9" />
<line x1="99.85" y1="366.12" x2="99.85" y2="371.24" stroke="#d9bde8" stroke-width="0.9" />
<line x1="96.85" y1="366.12" x2="102.85" y2="366.12" stroke="#d9bde8" stroke-width="0.9" />
<line x1="96.85" y1="371.24" x2="102.85" y2="371.24" stroke="#d9bde8" stroke-width="0.9" />
<line x1="114.80" y1="359.72" x2="114.80" y2="367.40" stroke="#d9bde8" stroke-width="0.9" />
<line x1="111.80" y1="359.72" x2="117.80" y2="359.72" stroke="#d9bde8" stroke-width="0.9" />
<line x1="111.80" y1="367.40" x2="117.80" y2="367.40" stroke="#d9bde8" stroke-width="0.9" />
<line x1="129.75" y1="352.29" x2="129.75" y2="359.97" stroke="#d9bde8" stroke-width="0.9" />
<line x1="126.75" y1="352.29" x2="132.75" y2="352.29" stroke="#d9bde8" stroke-width="0.9" />
<line x1="126.75" y1="359.97" x2="132.75" y2="359.97" stroke="#d9bde8" stroke-width="0.9" />
<line x1="144.70" y1="350.24" x2="144.70" y2="360.48" stroke="#d9bde8" stroke-width="0.9" />
<line x1="141.70" y1="350.24" x2="147.70" y2="350.24" stroke="#d9bde8" stroke-width="0.9" />
<line x1="141.70" y1="360.48" x2="147.70" y2="360.48" stroke="#d9bde8" stroke-width="0.9" />
<line x1="159.65" y1="341.03" x2="159.65" y2="356.39" stroke="#d9bde8" stroke-width="0.9" />
<line x1="156.65" y1="341.03" x2="162.65" y2="341.03" stroke="#d9bde8" stroke-width="0.9" />
<line x1="156.65" y1="356.39" x2="162.65" y2="356.39" stroke="#d9bde8" stroke-width="0.9" />
<line x1="174.60" y1="332.58" x2="174.60" y2="358.18" stroke="#d9bde8" stroke-width="0.9" />
<line x1="171.60" y1="332.58" x2="177.60" y2="332.58" stroke="#d9bde8" stroke-width="0.9" />
<line x1="171.60" y1="358.18" x2="177.60" y2="358.18" stroke="#d9bde8" stroke-width="0.9" />
<line x1="189.55" y1="326.95" x2="189.55" y2="357.67" stroke="#d9bde8" stroke-width="0.9" />
<line x1="186.55" y1="326.95" x2="192.55" y2="326.95" stroke="#d9bde8" stroke-width="0.9" />
<line x1="186.55" y1="357.67" x2="192.55" y2="357.67" stroke="#d9bde8" stroke-width="0.9" />
<line x1="204.50" y1="314.92" x2="204.50" y2="358.44" stroke="#d9bde8" stroke-width="0.9" />
<line x1="201.50" y1="314.92" x2="207.50" y2="314.92" stroke="#d9bde8" stroke-width="0.9" />
<line x1="201.50" y1="358.44" x2="207.50" y2="358.44" stroke="#d9bde8" stroke-width="0.9" />
<line x1="219.45" y1="302.88" x2="219.45" y2="336.16" stroke="#d9bde8" stroke-width="0.9" />
<line x1="216.45" y1="302.88" x2="222.45" y2="302.88" stroke="#d9bde8" stroke-width="0.9" />
<line x1="216.45" y1="336.16" x2="222.45" y2="336.16" stroke="#d9bde8" stroke-width="0.9" />
<line x1="234.40" y1="296.74" x2="234.40" y2="321.32" stroke="#d9bde8" stroke-width="0.9" />
<line x1="231.40" y1="296.74" x2="237.40" y2="296.74" stroke="#d9bde8" stroke-width="0.9" />
<line x1="231.40" y1="321.32" x2="237.40" y2="321.32" stroke="#d9bde8" stroke-width="0.9" />
<line x1="249.35" y1="298.02" x2="249.35" y2="313.38" stroke="#d9bde8" stroke-width="0.9" />
<line x1="246.35" y1="298.02" x2="252.35" y2="298.02" stroke="#d9bde8" stroke-width="0.9" />
<line x1="246.35" y1="313.38" x2="252.35" y2="313.38" stroke="#d9bde8" stroke-width="0.9" />
<line x1="264.30" y1="286.76" x2="264.30" y2="309.80" stroke="#d9bde8" stroke-width="0.9" />
<line x1="261.30" y1="286.76" x2="267.30" y2="286.76" stroke="#d9bde8" stroke-width="0.9" />
<line x1="261.30" y1="309.80" x2="267.30" y2="309.80" stroke="#d9bde8" stroke-width="0.9" />
<polyline points="55.00,395.30 69.95,390.95 84.90,380.20 99.85,368.68 114.80,363.56 129.75,356.13 144.70,355.36 159.65,348.71 174.60,345.38 189.55,342.31 204.50,336.68 219.45,319.52 234.40,309.03 249.35,305.70 264.30,298.28" fill="none" stroke="#b98fd2" stroke-width="1" />
<circle cx="55.00" cy="395.30" r="3.3" fill="#9fc6ea" stroke="#3a3440" stroke-width="0.6"/>
<circle cx="69.95" cy="391.46" r="3.3" fill="#9fc6ea" stroke="#3a3440" stroke-width="0.6"/>
<circle cx="84.90" cy="382.50" r="3.3" fill="#9fc6ea" stroke="#3a3440" stroke-width="0.6"/>
<circle cx="99.85" cy="373.54" r="3.3" fill="#9fc6ea" stroke="#3a3440" stroke-width="0.6"/>
<circle cx="114.80" cy="359.72" r="3.3" fill="#9fc6ea" stroke="#3a3440" stroke-width="0.6"/>
<circle cx="129.75" cy="363.30" r="3.3" fill="#9fc6ea" stroke="#3a3440" stroke-width="0.6"/>
<circle cx="144.70" cy="362.02" r="3.3" fill="#9fc6ea" stroke="#3a3440" stroke-width="0.6"/>
<circle cx="159.65" cy="350.50" r="3.3" fill="#9fc6ea" stroke="#3a3440" stroke-width="0.6"/>
<circle cx="174.60" cy="334.12" r="3.3" fill="#9fc6ea" stroke="#3a3440" stroke-width="0.6"/>
<circle cx="189.55" cy="333.09" r="3.3" fill="#9fc6ea" stroke="#3a3440" stroke-width="0.6"/>
<circle cx="204.50" cy="328.48" r="3.3" fill="#9fc6ea" stroke="#3a3440" stroke-width="0.6"/>
<circle cx="219.45" cy="319.78" r="3.3" fill="#9fc6ea" stroke="#3a3440" stroke-width="0.6"/>
<circle cx="234.40" cy="316.45" r="3.3" fill="#9fc6ea" stroke="#3a3440" stroke-width="0.6"/>
<circle cx="249.35" cy="315.17" r="3.3" fill="#9fc6ea" stroke="#3a3440" stroke-width="0.6"/>
<circle cx="55.00" cy="395.30" r="3.3" fill="#e3a8d8" stroke="#3a3440" stroke-width="0.6"/>
<circle cx="69.95" cy="387.62" r="3.3" fill="#e3a8d8" stroke="#3a3440" stroke-width="0.6"/>
<circle cx="84.90" cy="384.29" r="3.3" fill="#e3a8d8" stroke="#3a3440" stroke-width="0.6"/>
<circle cx="99.85" cy="371.75" r="3.3" fill="#e3a8d8" stroke="#3a3440" stroke-width="0.6"/>
<circle cx="114.80" cy="364.58" r="3.3" fill="#e3a8d8" stroke="#3a3440" stroke-width="0.6"/>
<circle cx="129.75" cy="363.56" r="3.3" fill="#e3a8d8" stroke="#3a3440" stroke-width="0.6"/>
<circle cx="144.70" cy="359.20" r="3.3" fill="#e3a8d8" stroke="#3a3440" stroke-width="0.6"/>
<circle cx="159.65" cy="355.11" r="3.3" fill="#e3a8d8" stroke="#3a3440" stroke-width="0.6"/>
<circle cx="174.60" cy="346.92" r="3.3" fill="#e3a8d8" stroke="#3a3440" stroke-width="0.6"/>
<circle cx="189.55" cy="344.87" r="3.3" fill="#e3a8d8" stroke="#3a3440" stroke-width="0.6"/>
<circle cx="204.50" cy="329.25" r="3.3" fill="#e3a8d8" stroke="#3a3440" stroke-width="0.6"/>
<circle cx="219.45" cy="330.53" r="3.3" fill="#e3a8d8" stroke="#3a3440" stroke-width="0.6"/>
<circle cx="234.40" cy="320.04" r="3.3" fill="#e3a8d8" stroke="#3a3440" stroke-width="0.6"/>
<circle cx="249.35" cy="311.08" r="3.3" fill="#e3a8d8" stroke="#3a3440" stroke-width="0.6"/>
<circle cx="55.00" cy="395.30" r="3.3" fill="#4753ad" stroke="#3a3440" stroke-width="0.6"/>
<circle cx="69.95" cy="394.28" r="3.3" fill="#4753ad" stroke="#3a3440" stroke-width="0.6"/>
<circle cx="84.90" cy="383.78" r="3.3" fill="#4753ad" stroke="#3a3440" stroke-width="0.6"/>
<circle cx="99.85" cy="375.33" r="3.3" fill="#4753ad" stroke="#3a3440" stroke-width="0.6"/>
<circle cx="114.80" cy="366.12" r="3.3" fill="#4753ad" stroke="#3a3440" stroke-width="0.6"/>
<circle cx="129.75" cy="359.20" r="3.3" fill="#4753ad" stroke="#3a3440" stroke-width="0.6"/>
<circle cx="144.70" cy="356.90" r="3.3" fill="#4753ad" stroke="#3a3440" stroke-width="0.6"/>
<circle cx="159.65" cy="349.22" r="3.3" fill="#4753ad" stroke="#3a3440" stroke-width="0.6"/>
<circle cx="174.60" cy="336.68" r="3.3" fill="#4753ad" stroke="#3a3440" stroke-width="0.6"/>
<circle cx="189.55" cy="331.04" r="3.3" fill="#4753ad" stroke="#3a3440" stroke-width="0.6"/>
<circle cx="204.50" cy="322.34" r="3.3" fill="#4753ad" stroke="#3a3440" stroke-width="0.6"/>
<circle cx="219.45" cy="315.17" r="3.3" fill="#4753ad" stroke="#3a3440" stroke-width="0.6"/>
<circle cx="234.40" cy="307.24" r="3.3" fill="#4753ad" stroke="#3a3440" stroke-width="0.6"/>
<circle cx="249.35" cy="304.16" r="3.3" fill="#4753ad" stroke="#3a3440" stroke-width="0.6"/>
<circle cx="264.30" cy="298.28" r="3.3" fill="#4753ad" stroke="#3a3440" stroke-width="0.6"/>
<circle cx="55.00" cy="395.30" r="3.3" fill="#9152ad" stroke="#3a3440" stroke-width="0.6"/>
<circle cx="69.95" cy="390.95" r="3.3" fill="#9152ad" stroke="#3a3440" stroke-width="0.6"/>
<circle cx="84.90" cy="380.20" r="3.3" fill="#9152ad" stroke="#3a3440" stroke-width="0.6"/>
<circle cx="99.85" cy="368.68" r="3.3" fill="#9152ad" stroke="#3a3440" stroke-width="0.6"/>
<circle cx="114.80" cy="363.56" r="3.3" fill="#9152ad" stroke="#3a3440" stroke-width="0.6"/>
<circle cx="129.75" cy="356.13" r="3.3" fill="#9152ad" stroke="#3a3440" stroke-width="0.6"/>
<circle cx="144.70" cy="355.36" r="3.3" fill="#9152ad" stroke="#3a3440" stroke-width="0.6"/>
<circle cx="159.65" cy="348.71" r="3.3" fill="#9152ad" stroke="#3a3440" stroke-width="0.6"/>
<circle cx="174.60" cy="345.38" r="3.3" fill="#9152ad" stroke="#3a3440" stroke-width="0.6"/>
<circle cx="189.55" cy="342.31" r="3.3" fill="#9152ad" stroke="#3a3440" stroke-width="0.6"/>
<circle cx="204.50" cy="336.68" r="3.3" fill="#9152ad" stroke="#3a3440" stroke-width="0.6"/>
<circle cx="219.45" cy="319.52" r="3.3" fill="#9152ad" stroke="#3a3440" stroke-width="0.6"/>
<circle cx="234.40" cy="309.03" r="3.3" fill="#9152ad" stroke="#3a3440" stroke-width="0.6"/>
<circle cx="249.35" cy="305.70" r="3.3" fill="#9152ad" stroke="#3a3440" stroke-width="0.6"/>
<circle cx="264.30" cy="298.28" r="3.3" fill="#9152ad" stroke="#3a3440" stroke-width="0.6"/>
<line x1="52.00" y1="276.70" x2="69.00" y2="276.70" stroke="#b98fd2" stroke-width="1" />
<circle cx="60.30" cy="276.70" r="3.3" fill="#9152ad" stroke="#3a3440" stroke-width="0.6"/>
<line x1="52.00" y1="291.70" x2="69.00" y2="291.70" stroke="#e8b0dc" stroke-width="1" stroke-dasharray="2.2 1.8"/>
<circle cx="60.30" cy="291.70" r="3.3" fill="#e3a8d8" stroke="#3a3440" stroke-width="0.6"/>
<line x1="52.00" y1="306.70" x2="69.00" y2="306.70" stroke="#8f97d8" stroke-width="1" />
<circle cx="60.30" cy="306.70" r="3.3" fill="#4753ad" stroke="#3a3440" stroke-width="0.6"/>
<line x1="52.00" y1="321.70" x2="69.00" y2="321.70" stroke="#98c6ee" stroke-width="1" stroke-dasharray="2.2 1.8"/>
<circle cx="60.30" cy="321.70" r="3.3" fill="#9fc6ea" stroke="#3a3440" stroke-width="0.6"/>
<text x="78.3" y="280.9" font-size="12.4" fill="#1a1a1a">nsp5<tspan dy="-3.7" font-size="7.3">T169I</tspan><tspan dy="3.7">nsp12</tspan><tspan dy="-3.7" font-size="7.3">V792I</tspan><tspan dy="3.7"> Infected</tspan></text>
<text x="78.3" y="295.9" font-size="12.4" fill="#1a1a1a">nsp5<tspan dy="-3.7" font-size="7.3">T169I</tspan><tspan dy="3.7">nsp12</tspan><tspan dy="-3.7" font-size="7.3">V792I</tspan><tspan dy="3.7"> Contact</tspan></text>
<text x="78.3" y="310.9" font-size="12.4" fill="#1a1a1a">WT Infected</text>
<text x="78.3" y="325.9" font-size="12.4" fill="#1a1a1a">WT Contact</text>
<text x="332.3" y="246.5" font-size="14" text-anchor="start" font-weight="bold" fill="#000" >c</text>
<text x="538" y="257.5" font-size="12.6" text-anchor="middle" font-weight="normal" fill="#1a1a1a" >Oropharyngeal swab</text>
<line x1="381.60" y1="273.20" x2="381.60" y2="421.70" stroke="#8f8f8f" stroke-width="1.2" />
<line x1="376.60" y1="273.22" x2="381.60" y2="273.22" stroke="#8f8f8f" stroke-width="1.2" />
<text x="375" y="277.52000000000004" font-size="12" text-anchor="end" font-weight="normal" fill="#1a1a1a" >8</text>
<line x1="376.60" y1="291.78" x2="381.60" y2="291.78" stroke="#8f8f8f" stroke-width="1.2" />
<text x="375" y="296.08" font-size="12" text-anchor="end" font-weight="normal" fill="#1a1a1a" >7</text>
<line x1="376.60" y1="310.34" x2="381.60" y2="310.34" stroke="#8f8f8f" stroke-width="1.2" />
<text x="375" y="314.64000000000004" font-size="12" text-anchor="end" font-weight="normal" fill="#1a1a1a" >6</text>
<line x1="376.60" y1="328.90" x2="381.60" y2="328.90" stroke="#8f8f8f" stroke-width="1.2" />
<text x="375" y="333.2" font-size="12" text-anchor="end" font-weight="normal" fill="#1a1a1a" >5</text>
<line x1="376.60" y1="347.46" x2="381.60" y2="347.46" stroke="#8f8f8f" stroke-width="1.2" />
<text x="375" y="351.76" font-size="12" text-anchor="end" font-weight="normal" fill="#1a1a1a" >4</text>
<line x1="376.60" y1="366.02" x2="381.60" y2="366.02" stroke="#8f8f8f" stroke-width="1.2" />
<text x="375" y="370.32" font-size="12" text-anchor="end" font-weight="normal" fill="#1a1a1a" >3</text>
<line x1="376.60" y1="384.58" x2="381.60" y2="384.58" stroke="#8f8f8f" stroke-width="1.2" />
<text x="375" y="388.88" font-size="12" text-anchor="end" font-weight="normal" fill="#1a1a1a" >2</text>
<line x1="376.60" y1="403.14" x2="381.60" y2="403.14" stroke="#8f8f8f" stroke-width="1.2" />
<text x="375" y="407.44" font-size="12" text-anchor="end" font-weight="normal" fill="#1a1a1a" >1</text>
<line x1="376.60" y1="421.70" x2="381.60" y2="421.70" stroke="#8f8f8f" stroke-width="1.2" />
<text x="375" y="426.0" font-size="12" text-anchor="end" font-weight="normal" fill="#1a1a1a" >0</text>
<line x1="381.60" y1="421.70" x2="683.60" y2="421.70" stroke="#8f8f8f" stroke-width="1.2" />
<line x1="399.30" y1="421.70" x2="399.30" y2="427.50" stroke="#9a9a9a" stroke-width="1.2" />
<text x="399.3" y="441.1" font-size="12" text-anchor="middle" font-weight="normal" fill="#1a1a1a" >0</text>
<line x1="426.00" y1="421.70" x2="426.00" y2="427.50" stroke="#9a9a9a" stroke-width="1.2" />
<text x="426.0" y="441.1" font-size="12" text-anchor="middle" font-weight="normal" fill="#1a1a1a" >1</text>
<line x1="452.70" y1="421.70" x2="452.70" y2="427.50" stroke="#9a9a9a" stroke-width="1.2" />
<text x="452.7" y="441.1" font-size="12" text-anchor="middle" font-weight="normal" fill="#1a1a1a" >2</text>
<line x1="479.40" y1="421.70" x2="479.40" y2="427.50" stroke="#9a9a9a" stroke-width="1.2" />
<text x="479.4" y="441.1" font-size="12" text-anchor="middle" font-weight="normal" fill="#1a1a1a" >3</text>
<line x1="506.10" y1="421.70" x2="506.10" y2="427.50" stroke="#9a9a9a" stroke-width="1.2" />
<text x="506.1" y="441.1" font-size="12" text-anchor="middle" font-weight="normal" fill="#1a1a1a" >4</text>
<line x1="532.80" y1="421.70" x2="532.80" y2="427.50" stroke="#9a9a9a" stroke-width="1.2" />
<text x="532.8" y="441.1" font-size="12" text-anchor="middle" font-weight="normal" fill="#1a1a1a" >5</text>
<line x1="559.50" y1="421.70" x2="559.50" y2="427.50" stroke="#9a9a9a" stroke-width="1.2" />
<text x="559.5" y="441.1" font-size="12" text-anchor="middle" font-weight="normal" fill="#1a1a1a" >6</text>
<line x1="586.20" y1="421.70" x2="586.20" y2="427.50" stroke="#9a9a9a" stroke-width="1.2" />
<text x="586.2" y="441.1" font-size="12" text-anchor="middle" font-weight="normal" fill="#1a1a1a" >7</text>
<line x1="612.90" y1="421.70" x2="612.90" y2="427.50" stroke="#9a9a9a" stroke-width="1.2" />
<text x="612.9" y="441.1" font-size="12" text-anchor="middle" font-weight="normal" fill="#1a1a1a" >8</text>
<line x1="639.60" y1="421.70" x2="639.60" y2="427.50" stroke="#9a9a9a" stroke-width="1.2" />
<text x="639.6" y="441.1" font-size="12" text-anchor="middle" font-weight="normal" fill="#1a1a1a" >10</text>
<line x1="666.30" y1="421.70" x2="666.30" y2="427.50" stroke="#9a9a9a" stroke-width="1.2" />
<text x="666.3" y="441.1" font-size="12" text-anchor="middle" font-weight="normal" fill="#1a1a1a" >14</text>
<text x="336.6" y="345" font-size="12.55" text-anchor="middle" transform="rotate(-90 336.6 345)" dy="4.4" fill="#1a1a1a">Total Viral RNA</text>
<text x="351.7" y="345" font-size="12.3" text-anchor="middle" transform="rotate(-90 351.7 345)" dy="4.3" fill="#1a1a1a">LogCopy number.mL<tspan dy="-4" font-size="7.5">-1</tspan></text>
<text x="538.7" y="460" font-size="12.8" text-anchor="middle" font-weight="normal" fill="#1a1a1a" >Days post-inoculation/contact</text>
<line x1="426.00" y1="388.85" x2="426.00" y2="398.13" stroke="#c2dcf4" stroke-width="0.9" />
<line x1="423.00" y1="388.85" x2="429.00" y2="388.85" stroke="#c2dcf4" stroke-width="0.9" />
<line x1="423.00" y1="398.13" x2="429.00" y2="398.13" stroke="#c2dcf4" stroke-width="0.9" />
<line x1="452.70" y1="365.09" x2="452.70" y2="378.08" stroke="#c2dcf4" stroke-width="0.9" />
<line x1="449.70" y1="365.09" x2="455.70" y2="365.09" stroke="#c2dcf4" stroke-width="0.9" />
<line x1="449.70" y1="378.08" x2="455.70" y2="378.08" stroke="#c2dcf4" stroke-width="0.9" />
<line x1="479.40" y1="344.30" x2="479.40" y2="355.44" stroke="#c2dcf4" stroke-width="0.9" />
<line x1="476.40" y1="344.30" x2="482.40" y2="344.30" stroke="#c2dcf4" stroke-width="0.9" />
<line x1="476.40" y1="355.44" x2="482.40" y2="355.44" stroke="#c2dcf4" stroke-width="0.9" />
<line x1="506.10" y1="335.02" x2="506.10" y2="349.87" stroke="#c2dcf4" stroke-width="0.9" />
<line x1="503.10" y1="335.02" x2="509.10" y2="335.02" stroke="#c2dcf4" stroke-width="0.9" />
<line x1="503.10" y1="349.87" x2="509.10" y2="349.87" stroke="#c2dcf4" stroke-width="0.9" />
<line x1="532.80" y1="335.40" x2="532.80" y2="346.53" stroke="#c2dcf4" stroke-width="0.9" />
<line x1="529.80" y1="335.40" x2="535.80" y2="335.40" stroke="#c2dcf4" stroke-width="0.9" />
<line x1="529.80" y1="346.53" x2="535.80" y2="346.53" stroke="#c2dcf4" stroke-width="0.9" />
<line x1="559.50" y1="337.25" x2="559.50" y2="350.24" stroke="#c2dcf4" stroke-width="0.9" />
<line x1="556.50" y1="337.25" x2="562.50" y2="337.25" stroke="#c2dcf4" stroke-width="0.9" />
<line x1="556.50" y1="350.24" x2="562.50" y2="350.24" stroke="#c2dcf4" stroke-width="0.9" />
<line x1="586.20" y1="332.80" x2="586.20" y2="347.65" stroke="#c2dcf4" stroke-width="0.9" />
<line x1="583.20" y1="332.80" x2="589.20" y2="332.80" stroke="#c2dcf4" stroke-width="0.9" />
<line x1="583.20" y1="347.65" x2="589.20" y2="347.65" stroke="#c2dcf4" stroke-width="0.9" />
<line x1="612.90" y1="326.49" x2="612.90" y2="373.63" stroke="#c2dcf4" stroke-width="0.9" />
<line x1="609.90" y1="326.49" x2="615.90" y2="326.49" stroke="#c2dcf4" stroke-width="0.9" />
<line x1="609.90" y1="373.63" x2="615.90" y2="373.63" stroke="#c2dcf4" stroke-width="0.9" />
<line x1="639.60" y1="354.88" x2="639.60" y2="395.72" stroke="#c2dcf4" stroke-width="0.9" />
<line x1="636.60" y1="354.88" x2="642.60" y2="354.88" stroke="#c2dcf4" stroke-width="0.9" />
<line x1="636.60" y1="395.72" x2="642.60" y2="395.72" stroke="#c2dcf4" stroke-width="0.9" />
<polyline points="399.30,421.70 426.00,393.49 452.70,371.59 479.40,349.87 506.10,342.45 532.80,340.96 559.50,343.75 586.20,340.22 612.90,350.06 639.60,375.30 666.30,421.70" fill="none" stroke="#98c6ee" stroke-width="1" stroke-dasharray="2.2 1.8"/>
<line x1="426.00" y1="379.20" x2="426.00" y2="397.76" stroke="#f0c8e8" stroke-width="0.9" />
<line x1="423.00" y1="379.20" x2="429.00" y2="379.20" stroke="#f0c8e8" stroke-width="0.9" />
<line x1="423.00" y1="397.76" x2="429.00" y2="397.76" stroke="#f0c8e8" stroke-width="0.9" />
<line x1="452.70" y1="377.34" x2="452.70" y2="394.05" stroke="#f0c8e8" stroke-width="0.9" />
<line x1="449.70" y1="377.34" x2="455.70" y2="377.34" stroke="#f0c8e8" stroke-width="0.9" />
<line x1="449.70" y1="394.05" x2="455.70" y2="394.05" stroke="#f0c8e8" stroke-width="0.9" />
<line x1="479.40" y1="330.76" x2="479.40" y2="345.60" stroke="#f0c8e8" stroke-width="0.9" />
<line x1="476.40" y1="330.76" x2="482.40" y2="330.76" stroke="#f0c8e8" stroke-width="0.9" />
<line x1="476.40" y1="345.60" x2="482.40" y2="345.60" stroke="#f0c8e8" stroke-width="0.9" />
<line x1="506.10" y1="333.54" x2="506.10" y2="344.68" stroke="#f0c8e8" stroke-width="0.9" />
<line x1="503.10" y1="333.54" x2="509.10" y2="333.54" stroke="#f0c8e8" stroke-width="0.9" />
<line x1="503.10" y1="344.68" x2="509.10" y2="344.68" stroke="#f0c8e8" stroke-width="0.9" />
<line x1="532.80" y1="326.67" x2="532.80" y2="345.23" stroke="#f0c8e8" stroke-width="0.9" />
<line x1="529.80" y1="326.67" x2="535.80" y2="326.67" stroke="#f0c8e8" stroke-width="0.9" />
<line x1="529.80" y1="345.23" x2="535.80" y2="345.23" stroke="#f0c8e8" stroke-width="0.9" />
<line x1="559.50" y1="316.28" x2="559.50" y2="344.49" stroke="#f0c8e8" stroke-width="0.9" />
<line x1="556.50" y1="316.28" x2="562.50" y2="316.28" stroke="#f0c8e8" stroke-width="0.9" />
<line x1="556.50" y1="344.49" x2="562.50" y2="344.49" stroke="#f0c8e8" stroke-width="0.9" />
<line x1="586.20" y1="326.49" x2="586.20" y2="353.96" stroke="#f0c8e8" stroke-width="0.9" />
<line x1="583.20" y1="326.49" x2="589.20" y2="326.49" stroke="#f0c8e8" stroke-width="0.9" />
<line x1="583.20" y1="353.96" x2="589.20" y2="353.96" stroke="#f0c8e8" stroke-width="0.9" />
<line x1="612.90" y1="360.64" x2="612.90" y2="392.93" stroke="#f0c8e8" stroke-width="0.9" />
<line x1="609.90" y1="360.64" x2="615.90" y2="360.64" stroke="#f0c8e8" stroke-width="0.9" />
<line x1="609.90" y1="392.93" x2="615.90" y2="392.93" stroke="#f0c8e8" stroke-width="0.9" />
<line x1="639.60" y1="361.94" x2="639.60" y2="393.49" stroke="#f0c8e8" stroke-width="0.9" />
<line x1="636.60" y1="361.94" x2="642.60" y2="361.94" stroke="#f0c8e8" stroke-width="0.9" />
<line x1="636.60" y1="393.49" x2="642.60" y2="393.49" stroke="#f0c8e8" stroke-width="0.9" />
<line x1="666.30" y1="410.19" x2="666.30" y2="421.33" stroke="#f0c8e8" stroke-width="0.9" />
<line x1="663.30" y1="410.19" x2="669.30" y2="410.19" stroke="#f0c8e8" stroke-width="0.9" />
<line x1="663.30" y1="421.33" x2="669.30" y2="421.33" stroke="#f0c8e8" stroke-width="0.9" />
<polyline points="399.30,421.70 426.00,388.48 452.70,385.69 479.40,338.18 506.10,339.11 532.80,335.95 559.50,330.38 586.20,340.22 612.90,376.78 639.60,377.71 666.30,415.76" fill="none" stroke="#e8b0dc" stroke-width="1" stroke-dasharray="2.2 1.8"/>
<line x1="426.00" y1="319.25" x2="426.00" y2="332.24" stroke="#b9bfe8" stroke-width="0.9" />
<line x1="423.00" y1="319.25" x2="429.00" y2="319.25" stroke="#b9bfe8" stroke-width="0.9" />
<line x1="423.00" y1="332.24" x2="429.00" y2="332.24" stroke="#b9bfe8" stroke-width="0.9" />
<line x1="452.70" y1="320.55" x2="452.70" y2="331.68" stroke="#b9bfe8" stroke-width="0.9" />
<line x1="449.70" y1="320.55" x2="455.70" y2="320.55" stroke="#b9bfe8" stroke-width="0.9" />
<line x1="449.70" y1="331.68" x2="455.70" y2="331.68" stroke="#b9bfe8" stroke-width="0.9" />
<line x1="479.40" y1="322.40" x2="479.40" y2="333.54" stroke="#b9bfe8" stroke-width="0.9" />
<line x1="476.40" y1="322.40" x2="482.40" y2="322.40" stroke="#b9bfe8" stroke-width="0.9" />
<line x1="476.40" y1="333.54" x2="482.40" y2="333.54" stroke="#b9bfe8" stroke-width="0.9" />
<line x1="506.10" y1="327.79" x2="506.10" y2="338.92" stroke="#b9bfe8" stroke-width="0.9" />
<line x1="503.10" y1="327.79" x2="509.10" y2="327.79" stroke="#b9bfe8" stroke-width="0.9" />
<line x1="503.10" y1="338.92" x2="509.10" y2="338.92" stroke="#b9bfe8" stroke-width="0.9" />
<line x1="532.80" y1="343.38" x2="532.80" y2="356.37" stroke="#b9bfe8" stroke-width="0.9" />
<line x1="529.80" y1="343.38" x2="535.80" y2="343.38" stroke="#b9bfe8" stroke-width="0.9" />
<line x1="529.80" y1="356.37" x2="535.80" y2="356.37" stroke="#b9bfe8" stroke-width="0.9" />
<line x1="559.50" y1="344.12" x2="559.50" y2="355.26" stroke="#b9bfe8" stroke-width="0.9" />
<line x1="556.50" y1="344.12" x2="562.50" y2="344.12" stroke="#b9bfe8" stroke-width="0.9" />
<line x1="556.50" y1="355.26" x2="562.50" y2="355.26" stroke="#b9bfe8" stroke-width="0.9" />
<line x1="586.20" y1="360.08" x2="586.20" y2="363.79" stroke="#b9bfe8" stroke-width="0.9" />
<line x1="583.20" y1="360.08" x2="589.20" y2="360.08" stroke="#b9bfe8" stroke-width="0.9" />
<line x1="583.20" y1="363.79" x2="589.20" y2="363.79" stroke="#b9bfe8" stroke-width="0.9" />
<line x1="612.90" y1="353.03" x2="612.90" y2="364.16" stroke="#b9bfe8" stroke-width="0.9" />
<line x1="609.90" y1="353.03" x2="615.90" y2="353.03" stroke="#b9bfe8" stroke-width="0.9" />
<line x1="609.90" y1="364.16" x2="615.90" y2="364.16" stroke="#b9bfe8" stroke-width="0.9" />
<line x1="639.60" y1="411.86" x2="639.60" y2="419.29" stroke="#b9bfe8" stroke-width="0.9" />
<line x1="636.60" y1="411.86" x2="642.60" y2="411.86" stroke="#b9bfe8" stroke-width="0.9" />
<line x1="636.60" y1="419.29" x2="642.60" y2="419.29" stroke="#b9bfe8" stroke-width="0.9" />
<polyline points="399.30,421.70 426.00,325.74 452.70,326.12 479.40,327.97 506.10,333.35 532.80,349.87 559.50,349.69 586.20,361.94 612.90,358.60 639.60,415.58 666.30,421.70" fill="none" stroke="#8f97d8" stroke-width="1" />
<line x1="426.00" y1="309.41" x2="426.00" y2="329.83" stroke="#d9bde8" stroke-width="0.9" />
<line x1="423.00" y1="309.41" x2="429.00" y2="309.41" stroke="#d9bde8" stroke-width="0.9" />
<line x1="423.00" y1="329.83" x2="429.00" y2="329.83" stroke="#d9bde8" stroke-width="0.9" />
<line x1="452.70" y1="308.48" x2="452.70" y2="330.76" stroke="#d9bde8" stroke-width="0.9" />
<line x1="449.70" y1="308.48" x2="455.70" y2="308.48" stroke="#d9bde8" stroke-width="0.9" />
<line x1="449.70" y1="330.76" x2="455.70" y2="330.76" stroke="#d9bde8" stroke-width="0.9" />
<line x1="479.40" y1="321.66" x2="479.40" y2="332.80" stroke="#d9bde8" stroke-width="0.9" />
<line x1="476.40" y1="321.66" x2="482.40" y2="321.66" stroke="#d9bde8" stroke-width="0.9" />
<line x1="476.40" y1="332.80" x2="482.40" y2="332.80" stroke="#d9bde8" stroke-width="0.9" />
<line x1="506.10" y1="330.20" x2="506.10" y2="345.05" stroke="#d9bde8" stroke-width="0.9" />
<line x1="503.10" y1="330.20" x2="509.10" y2="330.20" stroke="#d9bde8" stroke-width="0.9" />
<line x1="503.10" y1="345.05" x2="509.10" y2="345.05" stroke="#d9bde8" stroke-width="0.9" />
<line x1="532.80" y1="334.10" x2="532.80" y2="348.94" stroke="#d9bde8" stroke-width="0.9" />
<line x1="529.80" y1="334.10" x2="535.80" y2="334.10" stroke="#d9bde8" stroke-width="0.9" />
<line x1="529.80" y1="348.94" x2="535.80" y2="348.94" stroke="#d9bde8" stroke-width="0.9" />
<line x1="559.50" y1="349.32" x2="559.50" y2="360.45" stroke="#d9bde8" stroke-width="0.9" />
<line x1="556.50" y1="349.32" x2="562.50" y2="349.32" stroke="#d9bde8" stroke-width="0.9" />
<line x1="556.50" y1="360.45" x2="562.50" y2="360.45" stroke="#d9bde8" stroke-width="0.9" />
<line x1="586.20" y1="360.27" x2="586.20" y2="367.69" stroke="#d9bde8" stroke-width="0.9" />
<line x1="583.20" y1="360.27" x2="589.20" y2="360.27" stroke="#d9bde8" stroke-width="0.9" />
<line x1="583.20" y1="367.69" x2="589.20" y2="367.69" stroke="#d9bde8" stroke-width="0.9" />
<line x1="612.90" y1="360.82" x2="612.90" y2="368.25" stroke="#d9bde8" stroke-width="0.9" />
<line x1="609.90" y1="360.82" x2="615.90" y2="360.82" stroke="#d9bde8" stroke-width="0.9" />
<line x1="609.90" y1="368.25" x2="615.90" y2="368.25" stroke="#d9bde8" stroke-width="0.9" />
<line x1="639.60" y1="401.66" x2="639.60" y2="412.79" stroke="#d9bde8" stroke-width="0.9" />
<line x1="636.60" y1="401.66" x2="642.60" y2="401.66" stroke="#d9bde8" stroke-width="0.9" />
<line x1="636.60" y1="412.79" x2="642.60" y2="412.79" stroke="#d9bde8" stroke-width="0.9" />
<polyline points="399.30,421.70 426.00,319.62 452.70,319.62 479.40,327.23 506.10,337.62 532.80,341.52 559.50,354.88 586.20,363.98 612.90,364.54 639.60,407.22 666.30,421.70" fill="none" stroke="#b98fd2" stroke-width="1" />
<circle cx="399.30" cy="421.70" r="3.3" fill="#9fc6ea" stroke="#3a3440" stroke-width="0.6"/>
<circle cx="426.00" cy="393.49" r="3.3" fill="#9fc6ea" stroke="#3a3440" stroke-width="0.6"/>
<circle cx="452.70" cy="371.59" r="3.3" fill="#9fc6ea" stroke="#3a3440" stroke-width="0.6"/>
<circle cx="479.40" cy="349.87" r="3.3" fill="#9fc6ea" stroke="#3a3440" stroke-width="0.6"/>
<circle cx="506.10" cy="342.45" r="3.3" fill="#9fc6ea" stroke="#3a3440" stroke-width="0.6"/>
<circle cx="532.80" cy="340.96" r="3.3" fill="#9fc6ea" stroke="#3a3440" stroke-width="0.6"/>
<circle cx="559.50" cy="343.75" r="3.3" fill="#9fc6ea" stroke="#3a3440" stroke-width="0.6"/>
<circle cx="586.20" cy="340.22" r="3.3" fill="#9fc6ea" stroke="#3a3440" stroke-width="0.6"/>
<circle cx="612.90" cy="350.06" r="3.3" fill="#9fc6ea" stroke="#3a3440" stroke-width="0.6"/>
<circle cx="639.60" cy="375.30" r="3.3" fill="#9fc6ea" stroke="#3a3440" stroke-width="0.6"/>
<circle cx="666.30" cy="421.70" r="3.3" fill="#9fc6ea" stroke="#3a3440" stroke-width="0.6"/>
<circle cx="399.30" cy="421.70" r="3.3" fill="#e3a8d8" stroke="#3a3440" stroke-width="0.6"/>
<circle cx="426.00" cy="388.48" r="3.3" fill="#e3a8d8" stroke="#3a3440" stroke-width="0.6"/>
<circle cx="452.70" cy="385.69" r="3.3" fill="#e3a8d8" stroke="#3a3440" stroke-width="0.6"/>
<circle cx="479.40" cy="338.18" r="3.3" fill="#e3a8d8" stroke="#3a3440" stroke-width="0.6"/>
<circle cx="506.10" cy="339.11" r="3.3" fill="#e3a8d8" stroke="#3a3440" stroke-width="0.6"/>
<circle cx="532.80" cy="335.95" r="3.3" fill="#e3a8d8" stroke="#3a3440" stroke-width="0.6"/>
<circle cx="559.50" cy="330.38" r="3.3" fill="#e3a8d8" stroke="#3a3440" stroke-width="0.6"/>
<circle cx="586.20" cy="340.22" r="3.3" fill="#e3a8d8" stroke="#3a3440" stroke-width="0.6"/>
<circle cx="612.90" cy="376.78" r="3.3" fill="#e3a8d8" stroke="#3a3440" stroke-width="0.6"/>
<circle cx="639.60" cy="377.71" r="3.3" fill="#e3a8d8" stroke="#3a3440" stroke-width="0.6"/>
<circle cx="666.30" cy="415.76" r="3.3" fill="#e3a8d8" stroke="#3a3440" stroke-width="0.6"/>
<circle cx="399.30" cy="421.70" r="3.3" fill="#4753ad" stroke="#3a3440" stroke-width="0.6"/>
<circle cx="426.00" cy="325.74" r="3.3" fill="#4753ad" stroke="#3a3440" stroke-width="0.6"/>
<circle cx="452.70" cy="326.12" r="3.3" fill="#4753ad" stroke="#3a3440" stroke-width="0.6"/>
<circle cx="479.40" cy="327.97" r="3.3" fill="#4753ad" stroke="#3a3440" stroke-width="0.6"/>
<circle cx="506.10" cy="333.35" r="3.3" fill="#4753ad" stroke="#3a3440" stroke-width="0.6"/>
<circle cx="532.80" cy="349.87" r="3.3" fill="#4753ad" stroke="#3a3440" stroke-width="0.6"/>
<circle cx="559.50" cy="349.69" r="3.3" fill="#4753ad" stroke="#3a3440" stroke-width="0.6"/>
<circle cx="586.20" cy="361.94" r="3.3" fill="#4753ad" stroke="#3a3440" stroke-width="0.6"/>
<circle cx="612.90" cy="358.60" r="3.3" fill="#4753ad" stroke="#3a3440" stroke-width="0.6"/>
<circle cx="639.60" cy="415.58" r="3.3" fill="#4753ad" stroke="#3a3440" stroke-width="0.6"/>
<circle cx="666.30" cy="421.70" r="3.3" fill="#4753ad" stroke="#3a3440" stroke-width="0.6"/>
<circle cx="399.30" cy="421.70" r="3.3" fill="#9152ad" stroke="#3a3440" stroke-width="0.6"/>
<circle cx="426.00" cy="319.62" r="3.3" fill="#9152ad" stroke="#3a3440" stroke-width="0.6"/>
<circle cx="452.70" cy="319.62" r="3.3" fill="#9152ad" stroke="#3a3440" stroke-width="0.6"/>
<circle cx="479.40" cy="327.23" r="3.3" fill="#9152ad" stroke="#3a3440" stroke-width="0.6"/>
<circle cx="506.10" cy="337.62" r="3.3" fill="#9152ad" stroke="#3a3440" stroke-width="0.6"/>
<circle cx="532.80" cy="341.52" r="3.3" fill="#9152ad" stroke="#3a3440" stroke-width="0.6"/>
<circle cx="559.50" cy="354.88" r="3.3" fill="#9152ad" stroke="#3a3440" stroke-width="0.6"/>
<circle cx="586.20" cy="363.98" r="3.3" fill="#9152ad" stroke="#3a3440" stroke-width="0.6"/>
<circle cx="612.90" cy="364.54" r="3.3" fill="#9152ad" stroke="#3a3440" stroke-width="0.6"/>
<circle cx="639.60" cy="407.22" r="3.3" fill="#9152ad" stroke="#3a3440" stroke-width="0.6"/>
<circle cx="666.30" cy="421.70" r="3.3" fill="#9152ad" stroke="#3a3440" stroke-width="0.6"/>
<text x="6.6" y="502.4" font-size="14" text-anchor="start" font-weight="bold" fill="#000" >d</text>
<text x="203" y="499" font-size="12.6" text-anchor="middle" font-weight="normal" fill="#1a1a1a" >Oropharyngeal swab</text>
<line x1="45.20" y1="519.70" x2="45.20" y2="669.30" stroke="#8f8f8f" stroke-width="1.2" />
<line x1="40.20" y1="519.70" x2="45.20" y2="519.70" stroke="#8f8f8f" stroke-width="1.2" />
<text x="38.5" y="523.9999999999999" font-size="12" text-anchor="end" font-weight="normal" fill="#1a1a1a" >4</text>
<line x1="40.20" y1="557.10" x2="45.20" y2="557.10" stroke="#8f8f8f" stroke-width="1.2" />
<text x="38.5" y="561.3999999999999" font-size="12" text-anchor="end" font-weight="normal" fill="#1a1a1a" >3</text>
<line x1="40.20" y1="594.50" x2="45.20" y2="594.50" stroke="#8f8f8f" stroke-width="1.2" />
<text x="38.5" y="598.8" font-size="12" text-anchor="end" font-weight="normal" fill="#1a1a1a" >2</text>
<line x1="40.20" y1="631.90" x2="45.20" y2="631.90" stroke="#8f8f8f" stroke-width="1.2" />
<text x="38.5" y="636.1999999999999" font-size="12" text-anchor="end" font-weight="normal" fill="#1a1a1a" >1</text>
<line x1="40.20" y1="669.30" x2="45.20" y2="669.30" stroke="#8f8f8f" stroke-width="1.2" />
<text x="38.5" y="673.5999999999999" font-size="12" text-anchor="end" font-weight="normal" fill="#1a1a1a" >0</text>
<line x1="45.20" y1="669.30" x2="347.00" y2="669.30" stroke="#8f8f8f" stroke-width="1.2" />
<line x1="60.50" y1="669.30" x2="60.50" y2="674.30" stroke="#9a9a9a" stroke-width="1.2" />
<text x="60.5" y="688.7" font-size="12" text-anchor="middle" font-weight="normal" fill="#1a1a1a" >0</text>
<line x1="87.76" y1="669.30" x2="87.76" y2="674.30" stroke="#9a9a9a" stroke-width="1.2" />
<text x="87.76" y="688.7" font-size="12" text-anchor="middle" font-weight="normal" fill="#1a1a1a" >1</text>
<line x1="115.02" y1="669.30" x2="115.02" y2="674.30" stroke="#9a9a9a" stroke-width="1.2" />
<text x="115.02000000000001" y="688.7" font-size="12" text-anchor="middle" font-weight="normal" fill="#1a1a1a" >2</text>
<line x1="142.28" y1="669.30" x2="142.28" y2="674.30" stroke="#9a9a9a" stroke-width="1.2" />
<text x="142.28" y="688.7" font-size="12" text-anchor="middle" font-weight="normal" fill="#1a1a1a" >3</text>
<line x1="169.54" y1="669.30" x2="169.54" y2="674.30" stroke="#9a9a9a" stroke-width="1.2" />
<text x="169.54000000000002" y="688.7" font-size="12" text-anchor="middle" font-weight="normal" fill="#1a1a1a" >4</text>
<line x1="196.80" y1="669.30" x2="196.80" y2="674.30" stroke="#9a9a9a" stroke-width="1.2" />
<text x="196.8" y="688.7" font-size="12" text-anchor="middle" font-weight="normal" fill="#1a1a1a" >5</text>
<line x1="224.06" y1="669.30" x2="224.06" y2="674.30" stroke="#9a9a9a" stroke-width="1.2" />
<text x="224.06" y="688.7" font-size="12" text-anchor="middle" font-weight="normal" fill="#1a1a1a" >6</text>
<line x1="251.32" y1="669.30" x2="251.32" y2="674.30" stroke="#9a9a9a" stroke-width="1.2" />
<text x="251.32000000000002" y="688.7" font-size="12" text-anchor="middle" font-weight="normal" fill="#1a1a1a" >7</text>
<line x1="278.58" y1="669.30" x2="278.58" y2="674.30" stroke="#9a9a9a" stroke-width="1.2" />
<text x="278.58000000000004" y="688.7" font-size="12" text-anchor="middle" font-weight="normal" fill="#1a1a1a" >8</text>
<line x1="305.84" y1="669.30" x2="305.84" y2="674.30" stroke="#9a9a9a" stroke-width="1.2" />
<text x="305.84000000000003" y="688.7" font-size="12" text-anchor="middle" font-weight="normal" fill="#1a1a1a" >10</text>
<line x1="333.10" y1="669.30" x2="333.10" y2="674.30" stroke="#9a9a9a" stroke-width="1.2" />
<text x="333.1" y="688.7" font-size="12" text-anchor="middle" font-weight="normal" fill="#1a1a1a" >14</text>
<text x="7" y="590.3" font-size="12.3" text-anchor="middle" transform="rotate(-90 7 590.3)" dy="4.3" fill="#1a1a1a">Infectious virus titer</text>
<text x="22.7" y="591.5" font-size="12" text-anchor="middle" transform="rotate(-90 22.7 591.5)" dy="4.3" fill="#1a1a1a">LogTCID<tspan dy="2.5" font-size="8">50</tspan><tspan dy="-2.5">.mL</tspan><tspan dy="-4.3" font-size="8">-1</tspan></text>
<text x="203" y="708.1" font-size="12.8" text-anchor="middle" font-weight="normal" fill="#1a1a1a" >Days post-inoculation/contact</text>
<line x1="77.66" y1="624.05" x2="86.86" y2="624.05" stroke="#d9b9ea" stroke-width="1.1" />
<line x1="132.18" y1="659.58" x2="141.38" y2="659.58" stroke="#d9b9ea" stroke-width="1.1" />
<line x1="159.44" y1="657.33" x2="168.64" y2="657.33" stroke="#d9b9ea" stroke-width="1.1" />
<line x1="186.70" y1="659.58" x2="195.90" y2="659.58" stroke="#d9b9ea" stroke-width="1.1" />
<line x1="143.18" y1="630.78" x2="152.38" y2="630.78" stroke="#e8a6da" stroke-width="1.1" stroke-dasharray="2 1.5"/>
<line x1="170.44" y1="630.78" x2="179.64" y2="630.78" stroke="#e8a6da" stroke-width="1.1" stroke-dasharray="2 1.5"/>
<line x1="197.70" y1="633.02" x2="206.90" y2="633.02" stroke="#e8a6da" stroke-width="1.1" stroke-dasharray="2 1.5"/>
<line x1="224.96" y1="649.48" x2="234.16" y2="649.48" stroke="#e8a6da" stroke-width="1.1" stroke-dasharray="2 1.5"/>
<line x1="252.22" y1="652.47" x2="261.42" y2="652.47" stroke="#e8a6da" stroke-width="1.1" stroke-dasharray="2 1.5"/>
<circle cx="52.50" cy="669.30" r="3.1" fill="#9152ad" stroke="#3a3440" stroke-width="0.6"/>
<circle cx="54.00" cy="669.30" r="3.1" fill="#9152ad" stroke="#3a3440" stroke-width="0.6"/>
<circle cx="56.00" cy="669.30" r="3.1" fill="#9152ad" stroke="#3a3440" stroke-width="0.6"/>
<circle cx="57.50" cy="669.30" r="3.1" fill="#9152ad" stroke="#3a3440" stroke-width="0.6"/>
<circle cx="63.50" cy="669.30" r="3.1" fill="#e3a8d8" stroke="#3a3440" stroke-width="0.6"/>
<circle cx="65.00" cy="669.30" r="3.1" fill="#e3a8d8" stroke="#3a3440" stroke-width="0.6"/>
<circle cx="67.00" cy="669.30" r="3.1" fill="#e3a8d8" stroke="#3a3440" stroke-width="0.6"/>
<circle cx="68.50" cy="669.30" r="3.1" fill="#e3a8d8" stroke="#3a3440" stroke-width="0.6"/>
<circle cx="82.26" cy="545.88" r="3.1" fill="#9152ad" stroke="#3a3440" stroke-width="0.6"/>
<circle cx="82.26" cy="611.33" r="3.1" fill="#9152ad" stroke="#3a3440" stroke-width="0.6"/>
<circle cx="80.56" cy="669.30" r="3.1" fill="#9152ad" stroke="#3a3440" stroke-width="0.6"/>
<circle cx="83.96" cy="669.30" r="3.1" fill="#9152ad" stroke="#3a3440" stroke-width="0.6"/>
<circle cx="90.76" cy="669.30" r="3.1" fill="#e3a8d8" stroke="#3a3440" stroke-width="0.6"/>
<circle cx="92.26" cy="669.30" r="3.1" fill="#e3a8d8" stroke="#3a3440" stroke-width="0.6"/>
<circle cx="94.26" cy="669.30" r="3.1" fill="#e3a8d8" stroke="#3a3440" stroke-width="0.6"/>
<circle cx="95.76" cy="669.30" r="3.1" fill="#e3a8d8" stroke="#3a3440" stroke-width="0.6"/>
<circle cx="109.52" cy="583.28" r="3.1" fill="#9152ad" stroke="#3a3440" stroke-width="0.6"/>
<circle cx="107.82" cy="601.98" r="3.1" fill="#9152ad" stroke="#3a3440" stroke-width="0.6"/>
<circle cx="111.22" cy="601.98" r="3.1" fill="#9152ad" stroke="#3a3440" stroke-width="0.6"/>
<circle cx="109.52" cy="630.03" r="3.1" fill="#9152ad" stroke="#3a3440" stroke-width="0.6"/>
<circle cx="118.02" cy="669.30" r="3.1" fill="#e3a8d8" stroke="#3a3440" stroke-width="0.6"/>
<circle cx="119.52" cy="669.30" r="3.1" fill="#e3a8d8" stroke="#3a3440" stroke-width="0.6"/>
<circle cx="121.52" cy="669.30" r="3.1" fill="#e3a8d8" stroke="#3a3440" stroke-width="0.6"/>
<circle cx="123.02" cy="669.30" r="3.1" fill="#e3a8d8" stroke="#3a3440" stroke-width="0.6"/>
<circle cx="136.78" cy="630.03" r="3.1" fill="#9152ad" stroke="#3a3440" stroke-width="0.6"/>
<circle cx="134.28" cy="669.30" r="3.1" fill="#9152ad" stroke="#3a3440" stroke-width="0.6"/>
<circle cx="136.78" cy="669.30" r="3.1" fill="#9152ad" stroke="#3a3440" stroke-width="0.6"/>
<circle cx="139.28" cy="669.30" r="3.1" fill="#9152ad" stroke="#3a3440" stroke-width="0.6"/>
<circle cx="147.78" cy="583.28" r="3.1" fill="#e3a8d8" stroke="#3a3440" stroke-width="0.6"/>
<circle cx="147.78" cy="601.98" r="3.1" fill="#e3a8d8" stroke="#3a3440" stroke-width="0.6"/>
<circle cx="146.08" cy="669.30" r="3.1" fill="#e3a8d8" stroke="#3a3440" stroke-width="0.6"/>
<circle cx="149.48" cy="669.30" r="3.1" fill="#e3a8d8" stroke="#3a3440" stroke-width="0.6"/>
<circle cx="164.04" cy="620.68" r="3.1" fill="#9152ad" stroke="#3a3440" stroke-width="0.6"/>
<circle cx="161.54" cy="669.30" r="3.1" fill="#9152ad" stroke="#3a3440" stroke-width="0.6"/>
<circle cx="164.04" cy="669.30" r="3.1" fill="#9152ad" stroke="#3a3440" stroke-width="0.6"/>
<circle cx="166.54" cy="669.30" r="3.1" fill="#9152ad" stroke="#3a3440" stroke-width="0.6"/>
<circle cx="175.04" cy="583.28" r="3.1" fill="#e3a8d8" stroke="#3a3440" stroke-width="0.6"/>
<circle cx="175.04" cy="601.98" r="3.1" fill="#e3a8d8" stroke="#3a3440" stroke-width="0.6"/>
<circle cx="173.34" cy="669.30" r="3.1" fill="#e3a8d8" stroke="#3a3440" stroke-width="0.6"/>
<circle cx="176.74" cy="669.30" r="3.1" fill="#e3a8d8" stroke="#3a3440" stroke-width="0.6"/>
<circle cx="191.30" cy="630.03" r="3.1" fill="#9152ad" stroke="#3a3440" stroke-width="0.6"/>
<circle cx="188.80" cy="669.30" r="3.1" fill="#9152ad" stroke="#3a3440" stroke-width="0.6"/>
<circle cx="191.30" cy="669.30" r="3.1" fill="#9152ad" stroke="#3a3440" stroke-width="0.6"/>
<circle cx="193.80" cy="669.30" r="3.1" fill="#9152ad" stroke="#3a3440" stroke-width="0.6"/>
<circle cx="202.30" cy="592.63" r="3.1" fill="#e3a8d8" stroke="#3a3440" stroke-width="0.6"/>
<circle cx="202.30" cy="601.98" r="3.1" fill="#e3a8d8" stroke="#3a3440" stroke-width="0.6"/>
<circle cx="200.60" cy="669.30" r="3.1" fill="#e3a8d8" stroke="#3a3440" stroke-width="0.6"/>
<circle cx="204.00" cy="669.30" r="3.1" fill="#e3a8d8" stroke="#3a3440" stroke-width="0.6"/>
<circle cx="216.06" cy="669.30" r="3.1" fill="#9152ad" stroke="#3a3440" stroke-width="0.6"/>
<circle cx="217.56" cy="669.30" r="3.1" fill="#9152ad" stroke="#3a3440" stroke-width="0.6"/>
<circle cx="219.56" cy="669.30" r="3.1" fill="#9152ad" stroke="#3a3440" stroke-width="0.6"/>
<circle cx="221.06" cy="669.30" r="3.1" fill="#9152ad" stroke="#3a3440" stroke-width="0.6"/>
<circle cx="227.86" cy="630.03" r="3.1" fill="#e3a8d8" stroke="#3a3440" stroke-width="0.6"/>
<circle cx="231.26" cy="630.03" r="3.1" fill="#e3a8d8" stroke="#3a3440" stroke-width="0.6"/>
<circle cx="227.86" cy="669.30" r="3.1" fill="#e3a8d8" stroke="#3a3440" stroke-width="0.6"/>
<circle cx="231.26" cy="669.30" r="3.1" fill="#e3a8d8" stroke="#3a3440" stroke-width="0.6"/>
<circle cx="243.32" cy="669.30" r="3.1" fill="#9152ad" stroke="#3a3440" stroke-width="0.6"/>
<circle cx="244.82" cy="669.30" r="3.1" fill="#9152ad" stroke="#3a3440" stroke-width="0.6"/>
<circle cx="246.82" cy="669.30" r="3.1" fill="#9152ad" stroke="#3a3440" stroke-width="0.6"/>
<circle cx="248.32" cy="669.30" r="3.1" fill="#9152ad" stroke="#3a3440" stroke-width="0.6"/>
<circle cx="256.82" cy="601.98" r="3.1" fill="#e3a8d8" stroke="#3a3440" stroke-width="0.6"/>
<circle cx="254.32" cy="669.30" r="3.1" fill="#e3a8d8" stroke="#3a3440" stroke-width="0.6"/>
<circle cx="256.82" cy="669.30" r="3.1" fill="#e3a8d8" stroke="#3a3440" stroke-width="0.6"/>
<circle cx="259.32" cy="669.30" r="3.1" fill="#e3a8d8" stroke="#3a3440" stroke-width="0.6"/>
<circle cx="270.58" cy="669.30" r="3.1" fill="#9152ad" stroke="#3a3440" stroke-width="0.6"/>
<circle cx="272.08" cy="669.30" r="3.1" fill="#9152ad" stroke="#3a3440" stroke-width="0.6"/>
<circle cx="274.08" cy="669.30" r="3.1" fill="#9152ad" stroke="#3a3440" stroke-width="0.6"/>
<circle cx="275.58" cy="669.30" r="3.1" fill="#9152ad" stroke="#3a3440" stroke-width="0.6"/>
<circle cx="281.58" cy="669.30" r="3.1" fill="#e3a8d8" stroke="#3a3440" stroke-width="0.6"/>
<circle cx="283.08" cy="669.30" r="3.1" fill="#e3a8d8" stroke="#3a3440" stroke-width="0.6"/>
<circle cx="285.08" cy="669.30" r="3.1" fill="#e3a8d8" stroke="#3a3440" stroke-width="0.6"/>
<circle cx="286.58" cy="669.30" r="3.1" fill="#e3a8d8" stroke="#3a3440" stroke-width="0.6"/>
<circle cx="297.84" cy="669.30" r="3.1" fill="#9152ad" stroke="#3a3440" stroke-width="0.6"/>
<circle cx="299.34" cy="669.30" r="3.1" fill="#9152ad" stroke="#3a3440" stroke-width="0.6"/>
<circle cx="301.34" cy="669.30" r="3.1" fill="#9152ad" stroke="#3a3440" stroke-width="0.6"/>
<circle cx="302.84" cy="669.30" r="3.1" fill="#9152ad" stroke="#3a3440" stroke-width="0.6"/>
<circle cx="308.84" cy="669.30" r="3.1" fill="#e3a8d8" stroke="#3a3440" stroke-width="0.6"/>
<circle cx="310.34" cy="669.30" r="3.1" fill="#e3a8d8" stroke="#3a3440" stroke-width="0.6"/>
<circle cx="312.34" cy="669.30" r="3.1" fill="#e3a8d8" stroke="#3a3440" stroke-width="0.6"/>
<circle cx="313.84" cy="669.30" r="3.1" fill="#e3a8d8" stroke="#3a3440" stroke-width="0.6"/>
<circle cx="325.10" cy="669.30" r="3.1" fill="#9152ad" stroke="#3a3440" stroke-width="0.6"/>
<circle cx="326.60" cy="669.30" r="3.1" fill="#9152ad" stroke="#3a3440" stroke-width="0.6"/>
<circle cx="328.60" cy="669.30" r="3.1" fill="#9152ad" stroke="#3a3440" stroke-width="0.6"/>
<circle cx="330.10" cy="669.30" r="3.1" fill="#9152ad" stroke="#3a3440" stroke-width="0.6"/>
<circle cx="336.10" cy="669.30" r="3.1" fill="#e3a8d8" stroke="#3a3440" stroke-width="0.6"/>
<circle cx="337.60" cy="669.30" r="3.1" fill="#e3a8d8" stroke="#3a3440" stroke-width="0.6"/>
<circle cx="339.60" cy="669.30" r="3.1" fill="#e3a8d8" stroke="#3a3440" stroke-width="0.6"/>
<circle cx="341.10" cy="669.30" r="3.1" fill="#e3a8d8" stroke="#3a3440" stroke-width="0.6"/>
<rect x="159.4" y="520.5" width="168.2" height="31.5" fill="#fff" stroke="#6a6a6a" stroke-width="0.9"/>
<circle cx="167.60" cy="529.70" r="3.1" fill="#9152ad" stroke="#3a3440" stroke-width="0.6"/>
<circle cx="167.60" cy="542.80" r="3.1" fill="#e3a8d8" stroke="#3a3440" stroke-width="0.6"/>
<text x="177.3" y="533.6" font-size="12.4" fill="#1a1a1a">nsp5<tspan dy="-3.7" font-size="7.3">T169I</tspan><tspan dy="3.7">nsp12</tspan><tspan dy="-3.7" font-size="7.3">V792I</tspan><tspan dy="3.7"> Infected</tspan></text>
<text x="177.3" y="546.7" font-size="12.4" fill="#1a1a1a">nsp5<tspan dy="-3.7" font-size="7.3">T169I</tspan><tspan dy="3.7">nsp12</tspan><tspan dy="-3.7" font-size="7.3">V792I</tspan><tspan dy="3.7"> Contact</tspan></text>
<text x="360.4" y="502.5" font-size="14" text-anchor="start" font-weight="bold" fill="#000" >e</text>
<text x="536.5" y="499" font-size="12.6" text-anchor="middle" font-weight="normal" fill="#1a1a1a" >Oropharyngeal swab</text>
<line x1="379.60" y1="519.20" x2="379.60" y2="669.40" stroke="#8f8f8f" stroke-width="1.2" />
<line x1="374.60" y1="519.20" x2="379.60" y2="519.20" stroke="#8f8f8f" stroke-width="1.2" />
<text x="372.7" y="523.5" font-size="12" text-anchor="end" font-weight="normal" fill="#1a1a1a" >4</text>
<line x1="374.60" y1="556.75" x2="379.60" y2="556.75" stroke="#8f8f8f" stroke-width="1.2" />
<text x="372.7" y="561.05" font-size="12" text-anchor="end" font-weight="normal" fill="#1a1a1a" >3</text>
<line x1="374.60" y1="594.30" x2="379.60" y2="594.30" stroke="#8f8f8f" stroke-width="1.2" />
<text x="372.7" y="598.5999999999999" font-size="12" text-anchor="end" font-weight="normal" fill="#1a1a1a" >2</text>
<line x1="374.60" y1="631.85" x2="379.60" y2="631.85" stroke="#8f8f8f" stroke-width="1.2" />
<text x="372.7" y="636.15" font-size="12" text-anchor="end" font-weight="normal" fill="#1a1a1a" >1</text>
<line x1="374.60" y1="669.40" x2="379.60" y2="669.40" stroke="#8f8f8f" stroke-width="1.2" />
<text x="372.7" y="673.6999999999999" font-size="12" text-anchor="end" font-weight="normal" fill="#1a1a1a" >0</text>
<line x1="379.60" y1="669.40" x2="682.50" y2="669.40" stroke="#8f8f8f" stroke-width="1.2" />
<line x1="395.00" y1="669.40" x2="395.00" y2="674.40" stroke="#9a9a9a" stroke-width="1.2" />
<text x="395.0" y="688.7" font-size="12" text-anchor="middle" font-weight="normal" fill="#1a1a1a" >0</text>
<line x1="422.30" y1="669.40" x2="422.30" y2="674.40" stroke="#9a9a9a" stroke-width="1.2" />
<text x="422.3" y="688.7" font-size="12" text-anchor="middle" font-weight="normal" fill="#1a1a1a" >1</text>
<line x1="449.60" y1="669.40" x2="449.60" y2="674.40" stroke="#9a9a9a" stroke-width="1.2" />
<text x="449.6" y="688.7" font-size="12" text-anchor="middle" font-weight="normal" fill="#1a1a1a" >2</text>
<line x1="476.90" y1="669.40" x2="476.90" y2="674.40" stroke="#9a9a9a" stroke-width="1.2" />
<text x="476.9" y="688.7" font-size="12" text-anchor="middle" font-weight="normal" fill="#1a1a1a" >3</text>
<line x1="504.20" y1="669.40" x2="504.20" y2="674.40" stroke="#9a9a9a" stroke-width="1.2" />
<text x="504.2" y="688.7" font-size="12" text-anchor="middle" font-weight="normal" fill="#1a1a1a" >4</text>
<line x1="531.50" y1="669.40" x2="531.50" y2="674.40" stroke="#9a9a9a" stroke-width="1.2" />
<text x="531.5" y="688.7" font-size="12" text-anchor="middle" font-weight="normal" fill="#1a1a1a" >5</text>
<line x1="558.80" y1="669.40" x2="558.80" y2="674.40" stroke="#9a9a9a" stroke-width="1.2" />
<text x="558.8" y="688.7" font-size="12" text-anchor="middle" font-weight="normal" fill="#1a1a1a" >6</text>
<line x1="586.10" y1="669.40" x2="586.10" y2="674.40" stroke="#9a9a9a" stroke-width="1.2" />
<text x="586.1" y="688.7" font-size="12" text-anchor="middle" font-weight="normal" fill="#1a1a1a" >7</text>
<line x1="613.40" y1="669.40" x2="613.40" y2="674.40" stroke="#9a9a9a" stroke-width="1.2" />
<text x="613.4" y="688.7" font-size="12" text-anchor="middle" font-weight="normal" fill="#1a1a1a" >8</text>
<line x1="640.70" y1="669.40" x2="640.70" y2="674.40" stroke="#9a9a9a" stroke-width="1.2" />
<text x="640.7" y="688.7" font-size="12" text-anchor="middle" font-weight="normal" fill="#1a1a1a" >10</text>
<line x1="668.00" y1="669.40" x2="668.00" y2="674.40" stroke="#9a9a9a" stroke-width="1.2" />
<text x="668.0" y="688.7" font-size="12" text-anchor="middle" font-weight="normal" fill="#1a1a1a" >14</text>
<text x="536.8" y="708.1" font-size="12.8" text-anchor="middle" font-weight="normal" fill="#1a1a1a" >Days post-inoculation/contact</text>
<line x1="412.20" y1="618.33" x2="421.40" y2="618.33" stroke="#a9afe2" stroke-width="1.1" />
<line x1="439.50" y1="644.62" x2="448.70" y2="644.62" stroke="#a9afe2" stroke-width="1.1" />
<line x1="466.80" y1="657.01" x2="476.00" y2="657.01" stroke="#a9afe2" stroke-width="1.1" />
<line x1="494.10" y1="642.36" x2="503.30" y2="642.36" stroke="#a9afe2" stroke-width="1.1" />
<line x1="521.40" y1="654.76" x2="530.60" y2="654.76" stroke="#a9afe2" stroke-width="1.1" />
<line x1="548.70" y1="654.76" x2="557.90" y2="654.76" stroke="#a9afe2" stroke-width="1.1" />
<line x1="505.10" y1="631.10" x2="514.30" y2="631.10" stroke="#a6caee" stroke-width="1.1" stroke-dasharray="2 1.5"/>
<line x1="532.40" y1="628.10" x2="541.60" y2="628.10" stroke="#a6caee" stroke-width="1.1" stroke-dasharray="2 1.5"/>
<line x1="559.70" y1="650.25" x2="568.90" y2="650.25" stroke="#a6caee" stroke-width="1.1" stroke-dasharray="2 1.5"/>
<line x1="587.00" y1="632.98" x2="596.20" y2="632.98" stroke="#a6caee" stroke-width="1.1" stroke-dasharray="2 1.5"/>
<line x1="614.30" y1="659.26" x2="623.50" y2="659.26" stroke="#a6caee" stroke-width="1.1" stroke-dasharray="2 1.5"/>
<line x1="641.60" y1="659.26" x2="650.80" y2="659.26" stroke="#a6caee" stroke-width="1.1" stroke-dasharray="2 1.5"/>
<circle cx="387.00" cy="669.40" r="3.1" fill="#4753ad" stroke="#3a3440" stroke-width="0.6"/>
<circle cx="388.50" cy="669.40" r="3.1" fill="#4753ad" stroke="#3a3440" stroke-width="0.6"/>
<circle cx="390.50" cy="669.40" r="3.1" fill="#4753ad" stroke="#3a3440" stroke-width="0.6"/>
<circle cx="392.00" cy="669.40" r="3.1" fill="#4753ad" stroke="#3a3440" stroke-width="0.6"/>
<circle cx="398.00" cy="669.40" r="3.1" fill="#9fc6ea" stroke="#3a3440" stroke-width="0.6"/>
<circle cx="399.50" cy="669.40" r="3.1" fill="#9fc6ea" stroke="#3a3440" stroke-width="0.6"/>
<circle cx="401.50" cy="669.40" r="3.1" fill="#9fc6ea" stroke="#3a3440" stroke-width="0.6"/>
<circle cx="403.00" cy="669.40" r="3.1" fill="#9fc6ea" stroke="#3a3440" stroke-width="0.6"/>
<circle cx="416.80" cy="601.81" r="3.1" fill="#4753ad" stroke="#3a3440" stroke-width="0.6"/>
<circle cx="416.80" cy="611.20" r="3.1" fill="#4753ad" stroke="#3a3440" stroke-width="0.6"/>
<circle cx="414.30" cy="629.97" r="3.1" fill="#4753ad" stroke="#3a3440" stroke-width="0.6"/>
<circle cx="416.80" cy="629.97" r="3.1" fill="#4753ad" stroke="#3a3440" stroke-width="0.6"/>
<circle cx="419.30" cy="629.97" r="3.1" fill="#4753ad" stroke="#3a3440" stroke-width="0.6"/>
<circle cx="425.30" cy="669.40" r="3.1" fill="#9fc6ea" stroke="#3a3440" stroke-width="0.6"/>
<circle cx="426.80" cy="669.40" r="3.1" fill="#9fc6ea" stroke="#3a3440" stroke-width="0.6"/>
<circle cx="428.80" cy="669.40" r="3.1" fill="#9fc6ea" stroke="#3a3440" stroke-width="0.6"/>
<circle cx="430.30" cy="669.40" r="3.1" fill="#9fc6ea" stroke="#3a3440" stroke-width="0.6"/>
<circle cx="444.10" cy="611.20" r="3.1" fill="#4753ad" stroke="#3a3440" stroke-width="0.6"/>
<circle cx="444.10" cy="629.97" r="3.1" fill="#4753ad" stroke="#3a3440" stroke-width="0.6"/>
<circle cx="442.40" cy="669.40" r="3.1" fill="#4753ad" stroke="#3a3440" stroke-width="0.6"/>
<circle cx="445.80" cy="669.40" r="3.1" fill="#4753ad" stroke="#3a3440" stroke-width="0.6"/>
<circle cx="452.60" cy="669.40" r="3.1" fill="#9fc6ea" stroke="#3a3440" stroke-width="0.6"/>
<circle cx="454.10" cy="669.40" r="3.1" fill="#9fc6ea" stroke="#3a3440" stroke-width="0.6"/>
<circle cx="456.10" cy="669.40" r="3.1" fill="#9fc6ea" stroke="#3a3440" stroke-width="0.6"/>
<circle cx="457.60" cy="669.40" r="3.1" fill="#9fc6ea" stroke="#3a3440" stroke-width="0.6"/>
<circle cx="471.40" cy="620.59" r="3.1" fill="#4753ad" stroke="#3a3440" stroke-width="0.6"/>
<circle cx="468.90" cy="669.40" r="3.1" fill="#4753ad" stroke="#3a3440" stroke-width="0.6"/>
<circle cx="471.40" cy="669.40" r="3.1" fill="#4753ad" stroke="#3a3440" stroke-width="0.6"/>
<circle cx="473.90" cy="669.40" r="3.1" fill="#4753ad" stroke="#3a3440" stroke-width="0.6"/>
<circle cx="479.90" cy="669.40" r="3.1" fill="#9fc6ea" stroke="#3a3440" stroke-width="0.6"/>
<circle cx="481.40" cy="669.40" r="3.1" fill="#9fc6ea" stroke="#3a3440" stroke-width="0.6"/>
<circle cx="483.40" cy="669.40" r="3.1" fill="#9fc6ea" stroke="#3a3440" stroke-width="0.6"/>
<circle cx="484.90" cy="669.40" r="3.1" fill="#9fc6ea" stroke="#3a3440" stroke-width="0.6"/>
<circle cx="498.70" cy="601.81" r="3.1" fill="#4753ad" stroke="#3a3440" stroke-width="0.6"/>
<circle cx="498.70" cy="629.97" r="3.1" fill="#4753ad" stroke="#3a3440" stroke-width="0.6"/>
<circle cx="497.00" cy="669.40" r="3.1" fill="#4753ad" stroke="#3a3440" stroke-width="0.6"/>
<circle cx="500.40" cy="669.40" r="3.1" fill="#4753ad" stroke="#3a3440" stroke-width="0.6"/>
<circle cx="509.70" cy="554.87" r="3.1" fill="#9fc6ea" stroke="#3a3440" stroke-width="0.6"/>
<circle cx="509.70" cy="629.97" r="3.1" fill="#9fc6ea" stroke="#3a3440" stroke-width="0.6"/>
<circle cx="508.00" cy="669.40" r="3.1" fill="#9fc6ea" stroke="#3a3440" stroke-width="0.6"/>
<circle cx="511.40" cy="669.40" r="3.1" fill="#9fc6ea" stroke="#3a3440" stroke-width="0.6"/>
<circle cx="526.00" cy="611.20" r="3.1" fill="#4753ad" stroke="#3a3440" stroke-width="0.6"/>
<circle cx="523.50" cy="669.40" r="3.1" fill="#4753ad" stroke="#3a3440" stroke-width="0.6"/>
<circle cx="526.00" cy="669.40" r="3.1" fill="#4753ad" stroke="#3a3440" stroke-width="0.6"/>
<circle cx="528.50" cy="669.40" r="3.1" fill="#4753ad" stroke="#3a3440" stroke-width="0.6"/>
<circle cx="537.00" cy="601.81" r="3.1" fill="#9fc6ea" stroke="#3a3440" stroke-width="0.6"/>
<circle cx="537.00" cy="611.20" r="3.1" fill="#9fc6ea" stroke="#3a3440" stroke-width="0.6"/>
<circle cx="537.00" cy="629.97" r="3.1" fill="#9fc6ea" stroke="#3a3440" stroke-width="0.6"/>
<circle cx="537.00" cy="669.40" r="3.1" fill="#9fc6ea" stroke="#3a3440" stroke-width="0.6"/>
<circle cx="553.30" cy="611.20" r="3.1" fill="#4753ad" stroke="#3a3440" stroke-width="0.6"/>
<circle cx="550.80" cy="669.40" r="3.1" fill="#4753ad" stroke="#3a3440" stroke-width="0.6"/>
<circle cx="553.30" cy="669.40" r="3.1" fill="#4753ad" stroke="#3a3440" stroke-width="0.6"/>
<circle cx="555.80" cy="669.40" r="3.1" fill="#4753ad" stroke="#3a3440" stroke-width="0.6"/>
<circle cx="564.30" cy="592.42" r="3.1" fill="#9fc6ea" stroke="#3a3440" stroke-width="0.6"/>
<circle cx="561.80" cy="669.40" r="3.1" fill="#9fc6ea" stroke="#3a3440" stroke-width="0.6"/>
<circle cx="564.30" cy="669.40" r="3.1" fill="#9fc6ea" stroke="#3a3440" stroke-width="0.6"/>
<circle cx="566.80" cy="669.40" r="3.1" fill="#9fc6ea" stroke="#3a3440" stroke-width="0.6"/>
<circle cx="578.10" cy="669.40" r="3.1" fill="#4753ad" stroke="#3a3440" stroke-width="0.6"/>
<circle cx="579.60" cy="669.40" r="3.1" fill="#4753ad" stroke="#3a3440" stroke-width="0.6"/>
<circle cx="581.60" cy="669.40" r="3.1" fill="#4753ad" stroke="#3a3440" stroke-width="0.6"/>
<circle cx="583.10" cy="669.40" r="3.1" fill="#4753ad" stroke="#3a3440" stroke-width="0.6"/>
<circle cx="591.60" cy="564.26" r="3.1" fill="#9fc6ea" stroke="#3a3440" stroke-width="0.6"/>
<circle cx="591.60" cy="629.97" r="3.1" fill="#9fc6ea" stroke="#3a3440" stroke-width="0.6"/>
<circle cx="589.90" cy="669.40" r="3.1" fill="#9fc6ea" stroke="#3a3440" stroke-width="0.6"/>
<circle cx="593.30" cy="669.40" r="3.1" fill="#9fc6ea" stroke="#3a3440" stroke-width="0.6"/>
<circle cx="605.40" cy="669.40" r="3.1" fill="#4753ad" stroke="#3a3440" stroke-width="0.6"/>
<circle cx="606.90" cy="669.40" r="3.1" fill="#4753ad" stroke="#3a3440" stroke-width="0.6"/>
<circle cx="608.90" cy="669.40" r="3.1" fill="#4753ad" stroke="#3a3440" stroke-width="0.6"/>
<circle cx="610.40" cy="669.40" r="3.1" fill="#4753ad" stroke="#3a3440" stroke-width="0.6"/>
<circle cx="618.90" cy="629.97" r="3.1" fill="#9fc6ea" stroke="#3a3440" stroke-width="0.6"/>
<circle cx="616.40" cy="669.40" r="3.1" fill="#9fc6ea" stroke="#3a3440" stroke-width="0.6"/>
<circle cx="618.90" cy="669.40" r="3.1" fill="#9fc6ea" stroke="#3a3440" stroke-width="0.6"/>
<circle cx="621.40" cy="669.40" r="3.1" fill="#9fc6ea" stroke="#3a3440" stroke-width="0.6"/>
<circle cx="632.70" cy="669.40" r="3.1" fill="#4753ad" stroke="#3a3440" stroke-width="0.6"/>
<circle cx="634.20" cy="669.40" r="3.1" fill="#4753ad" stroke="#3a3440" stroke-width="0.6"/>
<circle cx="636.20" cy="669.40" r="3.1" fill="#4753ad" stroke="#3a3440" stroke-width="0.6"/>
<circle cx="637.70" cy="669.40" r="3.1" fill="#4753ad" stroke="#3a3440" stroke-width="0.6"/>
<circle cx="646.20" cy="629.97" r="3.1" fill="#9fc6ea" stroke="#3a3440" stroke-width="0.6"/>
<circle cx="643.70" cy="669.40" r="3.1" fill="#9fc6ea" stroke="#3a3440" stroke-width="0.6"/>
<circle cx="646.20" cy="669.40" r="3.1" fill="#9fc6ea" stroke="#3a3440" stroke-width="0.6"/>
<circle cx="648.70" cy="669.40" r="3.1" fill="#9fc6ea" stroke="#3a3440" stroke-width="0.6"/>
<circle cx="660.00" cy="669.40" r="3.1" fill="#4753ad" stroke="#3a3440" stroke-width="0.6"/>
<circle cx="661.50" cy="669.40" r="3.1" fill="#4753ad" stroke="#3a3440" stroke-width="0.6"/>
<circle cx="663.50" cy="669.40" r="3.1" fill="#4753ad" stroke="#3a3440" stroke-width="0.6"/>
<circle cx="665.00" cy="669.40" r="3.1" fill="#4753ad" stroke="#3a3440" stroke-width="0.6"/>
<circle cx="671.00" cy="669.40" r="3.1" fill="#9fc6ea" stroke="#3a3440" stroke-width="0.6"/>
<circle cx="672.50" cy="669.40" r="3.1" fill="#9fc6ea" stroke="#3a3440" stroke-width="0.6"/>
<circle cx="674.50" cy="669.40" r="3.1" fill="#9fc6ea" stroke="#3a3440" stroke-width="0.6"/>
<circle cx="676.00" cy="669.40" r="3.1" fill="#9fc6ea" stroke="#3a3440" stroke-width="0.6"/>
<rect x="397.5" y="519" width="96.8" height="31.2" fill="#fff" stroke="#6a6a6a" stroke-width="0.9"/>
<circle cx="405.70" cy="528.40" r="3.1" fill="#4753ad" stroke="#3a3440" stroke-width="0.6"/>
<circle cx="405.70" cy="541.30" r="3.1" fill="#9fc6ea" stroke="#3a3440" stroke-width="0.6"/>
<text x="418.1" y="532.6" font-size="12.4" text-anchor="start" font-weight="normal" fill="#1a1a1a" >WT Infected</text>
<text x="418.1" y="545.5" font-size="12.4" text-anchor="start" font-weight="normal" fill="#1a1a1a" >WT Contact</text>
<text x="8.6" y="737.4" font-size="14" text-anchor="start" font-weight="bold" fill="#000" >f</text>
<text x="177.2" y="739" font-size="12.9" text-anchor="middle" font-weight="normal" fill="#1a1a1a" >Tissues (day 14)</text>
<line x1="56.30" y1="754.30" x2="56.30" y2="907.40" stroke="#8f8f8f" stroke-width="1.2" />
<line x1="51.30" y1="754.40" x2="56.30" y2="754.40" stroke="#8f8f8f" stroke-width="1.2" />
<text x="48.5" y="758.6999999999999" font-size="12" text-anchor="end" font-weight="normal" fill="#1a1a1a" >5</text>
<line x1="51.30" y1="785.00" x2="56.30" y2="785.00" stroke="#8f8f8f" stroke-width="1.2" />
<text x="48.5" y="789.3" font-size="12" text-anchor="end" font-weight="normal" fill="#1a1a1a" >4</text>
<line x1="51.30" y1="815.60" x2="56.30" y2="815.60" stroke="#8f8f8f" stroke-width="1.2" />
<text x="48.5" y="819.8999999999999" font-size="12" text-anchor="end" font-weight="normal" fill="#1a1a1a" >3</text>
<line x1="51.30" y1="846.20" x2="56.30" y2="846.20" stroke="#8f8f8f" stroke-width="1.2" />
<text x="48.5" y="850.4999999999999" font-size="12" text-anchor="end" font-weight="normal" fill="#1a1a1a" >2</text>
<line x1="51.30" y1="876.80" x2="56.30" y2="876.80" stroke="#8f8f8f" stroke-width="1.2" />
<text x="48.5" y="881.0999999999999" font-size="12" text-anchor="end" font-weight="normal" fill="#1a1a1a" >1</text>
<line x1="51.30" y1="907.40" x2="56.30" y2="907.40" stroke="#8f8f8f" stroke-width="1.2" />
<text x="48.5" y="911.6999999999999" font-size="12" text-anchor="end" font-weight="normal" fill="#1a1a1a" >0</text>
<line x1="56.30" y1="907.40" x2="285.90" y2="907.40" stroke="#8f8f8f" stroke-width="1.2" />
<line x1="92.30" y1="907.40" x2="92.30" y2="912.40" stroke="#9a9a9a" stroke-width="1.2" />
<text x="92.3" y="927" font-size="12.4" text-anchor="middle" font-weight="normal" fill="#1a1a1a" ></text>
<line x1="171.00" y1="907.40" x2="171.00" y2="912.40" stroke="#9a9a9a" stroke-width="1.2" />
<text x="171" y="927" font-size="12.4" text-anchor="middle" font-weight="normal" fill="#1a1a1a" ></text>
<line x1="249.10" y1="907.40" x2="249.10" y2="912.40" stroke="#9a9a9a" stroke-width="1.2" />
<text x="249.1" y="927" font-size="12.4" text-anchor="middle" font-weight="normal" fill="#1a1a1a" ></text>
<text x="94.3" y="928" font-size="12.4" text-anchor="middle" font-weight="normal" fill="#1a1a1a" >Turbinate</text>
<text x="173.5" y="928" font-size="12.4" text-anchor="middle" font-weight="normal" fill="#1a1a1a" >Trachea</text>
<text x="251" y="928" font-size="12.4" text-anchor="middle" font-weight="normal" fill="#1a1a1a" >Lung</text>
<text x="18.9" y="826.5" font-size="12.6" text-anchor="middle" transform="rotate(-90 18.9 826.5)" dy="4.4" fill="#1a1a1a">Total Viral RNA</text>
<text x="33.1" y="826.5" font-size="12.5" text-anchor="middle" transform="rotate(-90 33.1 826.5)" dy="4.4" fill="#1a1a1a">LogCopy number.mL<tspan dy="-4" font-size="7.6">-1</tspan></text>
<line x1="62.00" y1="783.16" x2="72.90" y2="783.16" stroke="#d9b9ea" stroke-width="1.1" />
<line x1="78.80" y1="802.14" x2="89.90" y2="802.14" stroke="#efc3e6" stroke-width="1.1" />
<line x1="96.00" y1="780.10" x2="106.50" y2="780.10" stroke="#a9afe2" stroke-width="1.1" />
<line x1="111.90" y1="794.49" x2="123.50" y2="794.49" stroke="#b9d6f2" stroke-width="1.1" />
<line x1="139.90" y1="841.30" x2="151.80" y2="841.30" stroke="#d9b9ea" stroke-width="1.1" />
<line x1="174.00" y1="870.99" x2="185.00" y2="870.99" stroke="#a9afe2" stroke-width="1.1" />
<line x1="218.90" y1="869.76" x2="229.80" y2="869.76" stroke="#d9b9ea" stroke-width="1.1" />
<line x1="252.10" y1="846.20" x2="263.50" y2="846.20" stroke="#a9afe2" stroke-width="1.1" />
<line x1="269.00" y1="877.11" x2="280.00" y2="877.11" stroke="#b9d6f2" stroke-width="1.1" />
<circle cx="65.10" cy="777.35" r="3.1" fill="#9152ad" stroke="#3a3440" stroke-width="0.6"/>
<circle cx="70.50" cy="777.35" r="3.1" fill="#9152ad" stroke="#3a3440" stroke-width="0.6"/>
<circle cx="70.50" cy="788.06" r="3.1" fill="#9152ad" stroke="#3a3440" stroke-width="0.6"/>
<circle cx="65.10" cy="791.73" r="3.1" fill="#9152ad" stroke="#3a3440" stroke-width="0.6"/>
<circle cx="148.60" cy="829.37" r="3.1" fill="#9152ad" stroke="#3a3440" stroke-width="0.6"/>
<circle cx="143.20" cy="834.88" r="3.1" fill="#9152ad" stroke="#3a3440" stroke-width="0.6"/>
<circle cx="145.60" cy="848.04" r="3.1" fill="#9152ad" stroke="#3a3440" stroke-width="0.6"/>
<circle cx="145.60" cy="861.19" r="3.1" fill="#9152ad" stroke="#3a3440" stroke-width="0.6"/>
<circle cx="224.30" cy="785.92" r="3.1" fill="#9152ad" stroke="#3a3440" stroke-width="0.6"/>
<circle cx="224.30" cy="833.04" r="3.1" fill="#9152ad" stroke="#3a3440" stroke-width="0.6"/>
<circle cx="221.50" cy="907.40" r="3.1" fill="#9152ad" stroke="#3a3440" stroke-width="0.6"/>
<circle cx="226.80" cy="907.40" r="3.1" fill="#9152ad" stroke="#3a3440" stroke-width="0.6"/>
<circle cx="81.60" cy="792.04" r="3.1" fill="#e3a8d8" stroke="#3a3440" stroke-width="0.6"/>
<circle cx="87.10" cy="790.20" r="3.1" fill="#e3a8d8" stroke="#3a3440" stroke-width="0.6"/>
<circle cx="84.50" cy="811.93" r="3.1" fill="#e3a8d8" stroke="#3a3440" stroke-width="0.6"/>
<circle cx="84.50" cy="907.40" r="3.1" fill="#e3a8d8" stroke="#3a3440" stroke-width="0.6"/>
<circle cx="162.30" cy="875.88" r="3.1" fill="#e3a8d8" stroke="#3a3440" stroke-width="0.6"/>
<circle cx="160.00" cy="907.40" r="3.1" fill="#e3a8d8" stroke="#3a3440" stroke-width="0.6"/>
<circle cx="164.50" cy="907.40" r="3.1" fill="#e3a8d8" stroke="#3a3440" stroke-width="0.6"/>
<circle cx="238.50" cy="907.40" r="3.1" fill="#e3a8d8" stroke="#3a3440" stroke-width="0.6"/>
<circle cx="241.20" cy="907.40" r="3.1" fill="#e3a8d8" stroke="#3a3440" stroke-width="0.6"/>
<circle cx="243.90" cy="907.40" r="3.1" fill="#e3a8d8" stroke="#3a3440" stroke-width="0.6"/>
<circle cx="98.60" cy="774.29" r="3.1" fill="#3f4ea8" stroke="#3a3440" stroke-width="0.6"/>
<circle cx="104.10" cy="774.29" r="3.1" fill="#3f4ea8" stroke="#3a3440" stroke-width="0.6"/>
<circle cx="103.60" cy="786.53" r="3.1" fill="#3f4ea8" stroke="#3a3440" stroke-width="0.6"/>
<circle cx="98.60" cy="791.12" r="3.1" fill="#3f4ea8" stroke="#3a3440" stroke-width="0.6"/>
<circle cx="179.60" cy="858.44" r="3.1" fill="#3f4ea8" stroke="#3a3440" stroke-width="0.6"/>
<circle cx="179.60" cy="871.29" r="3.1" fill="#3f4ea8" stroke="#3a3440" stroke-width="0.6"/>
<circle cx="179.60" cy="907.40" r="3.1" fill="#3f4ea8" stroke="#3a3440" stroke-width="0.6"/>
<circle cx="257.80" cy="807.03" r="3.1" fill="#3f4ea8" stroke="#3a3440" stroke-width="0.6"/>
<circle cx="257.80" cy="837.94" r="3.1" fill="#3f4ea8" stroke="#3a3440" stroke-width="0.6"/>
<circle cx="257.80" cy="854.77" r="3.1" fill="#3f4ea8" stroke="#3a3440" stroke-width="0.6"/>
<circle cx="257.80" cy="907.40" r="3.1" fill="#3f4ea8" stroke="#3a3440" stroke-width="0.6"/>
<circle cx="120.70" cy="777.35" r="3.1" fill="#9fc6ea" stroke="#3a3440" stroke-width="0.6"/>
<circle cx="115.20" cy="783.47" r="3.1" fill="#9fc6ea" stroke="#3a3440" stroke-width="0.6"/>
<circle cx="117.80" cy="804.89" r="3.1" fill="#9fc6ea" stroke="#3a3440" stroke-width="0.6"/>
<circle cx="117.80" cy="907.40" r="3.1" fill="#9fc6ea" stroke="#3a3440" stroke-width="0.6"/>
<circle cx="195.80" cy="856.60" r="3.1" fill="#9fc6ea" stroke="#3a3440" stroke-width="0.6"/>
<circle cx="193.30" cy="907.40" r="3.1" fill="#9fc6ea" stroke="#3a3440" stroke-width="0.6"/>
<circle cx="196.00" cy="907.40" r="3.1" fill="#9fc6ea" stroke="#3a3440" stroke-width="0.6"/>
<circle cx="198.50" cy="907.40" r="3.1" fill="#9fc6ea" stroke="#3a3440" stroke-width="0.6"/>
<circle cx="274.50" cy="825.70" r="3.1" fill="#9fc6ea" stroke="#3a3440" stroke-width="0.6"/>
<circle cx="274.50" cy="847.42" r="3.1" fill="#9fc6ea" stroke="#3a3440" stroke-width="0.6"/>
<circle cx="271.50" cy="907.40" r="3.1" fill="#9fc6ea" stroke="#3a3440" stroke-width="0.6"/>
<circle cx="277.70" cy="907.40" r="3.1" fill="#9fc6ea" stroke="#3a3440" stroke-width="0.6"/>
<text x="303.6" y="737.2" font-size="14" text-anchor="start" font-weight="bold" fill="#000" >g</text>
<text x="421.9" y="739" font-size="12.1" text-anchor="middle" font-weight="normal" fill="#1a1a1a" >Serum neutralization</text>
<line x1="345.80" y1="754.20" x2="345.80" y2="905.40" stroke="#8f8f8f" stroke-width="1.2" />
<line x1="340.80" y1="754.20" x2="345.80" y2="754.20" stroke="#8f8f8f" stroke-width="1.2" />
<text x="340.3" y="758.5" font-size="12" text-anchor="end" font-weight="normal" fill="#1a1a1a" >10</text>
<line x1="340.80" y1="784.44" x2="345.80" y2="784.44" stroke="#8f8f8f" stroke-width="1.2" />
<text x="340.3" y="788.7399999999999" font-size="12" text-anchor="end" font-weight="normal" fill="#1a1a1a" >8</text>
<line x1="340.80" y1="814.68" x2="345.80" y2="814.68" stroke="#8f8f8f" stroke-width="1.2" />
<text x="340.3" y="818.9799999999999" font-size="12" text-anchor="end" font-weight="normal" fill="#1a1a1a" >6</text>
<line x1="340.80" y1="844.92" x2="345.80" y2="844.92" stroke="#8f8f8f" stroke-width="1.2" />
<text x="340.3" y="849.2199999999999" font-size="12" text-anchor="end" font-weight="normal" fill="#1a1a1a" >4</text>
<line x1="340.80" y1="875.16" x2="345.80" y2="875.16" stroke="#8f8f8f" stroke-width="1.2" />
<text x="340.3" y="879.4599999999999" font-size="12" text-anchor="end" font-weight="normal" fill="#1a1a1a" >2</text>
<line x1="340.80" y1="905.40" x2="345.80" y2="905.40" stroke="#8f8f8f" stroke-width="1.2" />
<text x="340.3" y="909.6999999999999" font-size="12" text-anchor="end" font-weight="normal" fill="#1a1a1a" >0</text>
<line x1="345.80" y1="905.40" x2="491.20" y2="905.40" stroke="#8f8f8f" stroke-width="1.2" />
<line x1="381.20" y1="905.40" x2="381.20" y2="910.40" stroke="#9a9a9a" stroke-width="1.2" />
<text x="381.2" y="924.4" font-size="12" text-anchor="middle" font-weight="normal" fill="#1a1a1a" >0</text>
<line x1="456.20" y1="905.40" x2="456.20" y2="910.40" stroke="#9a9a9a" stroke-width="1.2" />
<text x="456.2" y="924.4" font-size="12" text-anchor="middle" font-weight="normal" fill="#1a1a1a" >14</text>
<text x="309.5" y="836.2" font-size="13.2" text-anchor="middle" transform="rotate(-90 309.5 836.2)" dy="4.5" fill="#1a1a1a">VN Titer (100% neutralization)</text>
<text x="326" y="831.8" font-size="12.6" text-anchor="middle" transform="rotate(-90 326 831.8)" dy="4.4" fill="#1a1a1a">Log2</text>
<text x="422.6" y="939" font-size="12.1" text-anchor="middle" font-weight="normal" fill="#1a1a1a" >Experimental days</text>
<line x1="426.00" y1="792.00" x2="437.20" y2="792.00" stroke="#d9b9ea" stroke-width="1.1" />
<line x1="458.50" y1="807.12" x2="469.30" y2="807.12" stroke="#a9afe2" stroke-width="1.1" />
<circle cx="354.00" cy="905.40" r="3.2" fill="#9152ad" stroke="#3a3440" stroke-width="0.6"/>
<circle cx="357.00" cy="905.40" r="3.2" fill="#9152ad" stroke="#3a3440" stroke-width="0.6"/>
<circle cx="359.50" cy="905.40" r="3.2" fill="#9152ad" stroke="#3a3440" stroke-width="0.6"/>
<circle cx="429.30" cy="784.44" r="3.2" fill="#9152ad" stroke="#3a3440" stroke-width="0.6"/>
<circle cx="434.90" cy="784.44" r="3.2" fill="#9152ad" stroke="#3a3440" stroke-width="0.6"/>
<circle cx="429.30" cy="799.56" r="3.2" fill="#9152ad" stroke="#3a3440" stroke-width="0.6"/>
<circle cx="434.90" cy="799.56" r="3.2" fill="#9152ad" stroke="#3a3440" stroke-width="0.6"/>
<circle cx="370.50" cy="905.40" r="3.2" fill="#e3a8d8" stroke="#3a3440" stroke-width="0.6"/>
<circle cx="373.00" cy="905.40" r="3.2" fill="#e3a8d8" stroke="#3a3440" stroke-width="0.6"/>
<circle cx="376.00" cy="905.40" r="3.2" fill="#e3a8d8" stroke="#3a3440" stroke-width="0.6"/>
<circle cx="448.30" cy="799.56" r="3.2" fill="#e3a8d8" stroke="#3a3440" stroke-width="0.6"/>
<circle cx="445.10" cy="829.80" r="3.2" fill="#e3a8d8" stroke="#3a3440" stroke-width="0.6"/>
<circle cx="451.00" cy="829.80" r="3.2" fill="#e3a8d8" stroke="#3a3440" stroke-width="0.6"/>
<circle cx="448.30" cy="905.40" r="3.2" fill="#e3a8d8" stroke="#3a3440" stroke-width="0.6"/>
<circle cx="386.00" cy="905.40" r="3.2" fill="#3f4ea8" stroke="#3a3440" stroke-width="0.6"/>
<circle cx="389.00" cy="905.40" r="3.2" fill="#3f4ea8" stroke="#3a3440" stroke-width="0.6"/>
<circle cx="392.00" cy="905.40" r="3.2" fill="#3f4ea8" stroke="#3a3440" stroke-width="0.6"/>
<circle cx="460.60" cy="799.56" r="3.2" fill="#3f4ea8" stroke="#3a3440" stroke-width="0.6"/>
<circle cx="466.40" cy="799.56" r="3.2" fill="#3f4ea8" stroke="#3a3440" stroke-width="0.6"/>
<circle cx="463.50" cy="814.68" r="3.2" fill="#3f4ea8" stroke="#3a3440" stroke-width="0.6"/>
<circle cx="463.50" cy="829.80" r="3.2" fill="#3f4ea8" stroke="#3a3440" stroke-width="0.6"/>
<circle cx="403.00" cy="905.40" r="3.2" fill="#8c93d0" stroke="#3a3440" stroke-width="0.6"/>
<circle cx="406.00" cy="905.40" r="3.2" fill="#8c93d0" stroke="#3a3440" stroke-width="0.6"/>
<circle cx="409.00" cy="905.40" r="3.2" fill="#8c93d0" stroke="#3a3440" stroke-width="0.6"/>
<circle cx="480.10" cy="799.56" r="3.2" fill="#8c93d0" stroke="#3a3440" stroke-width="0.6"/>
<circle cx="477.20" cy="814.68" r="3.2" fill="#8c93d0" stroke="#3a3440" stroke-width="0.6"/>
<circle cx="483.00" cy="814.68" r="3.2" fill="#8c93d0" stroke="#3a3440" stroke-width="0.6"/>
<circle cx="480.10" cy="905.40" r="3.2" fill="#8c93d0" stroke="#3a3440" stroke-width="0.6"/>
<circle cx="506.70" cy="768.00" r="2.6" fill="#9152ad" stroke="#3a3440" stroke-width="0.4"/>
<text x="517.2" y="771.0999999999999" font-size="12.5" fill="#1a1a1a">nsp5<tspan dy="-3.7" font-size="7.3">T169I</tspan><tspan dy="3.7">nsp12</tspan><tspan dy="-3.7" font-size="7.3">V792I</tspan><tspan dy="3.7"> Infected</tspan></text>
<circle cx="506.70" cy="783.30" r="2.6" fill="#e3a8d8" stroke="#3a3440" stroke-width="0.4"/>
<text x="517.2" y="786.3" font-size="12.5" fill="#1a1a1a">nsp5<tspan dy="-3.7" font-size="7.3">T169I</tspan><tspan dy="3.7">nsp12</tspan><tspan dy="-3.7" font-size="7.3">V792I</tspan><tspan dy="3.7"> Contact</tspan></text>
<circle cx="506.70" cy="797.70" r="2.6" fill="#3f4ea8" stroke="#3a3440" stroke-width="0.4"/>
<text x="517.2" y="801.5999999999999" font-size="12.5" fill="#1a1a1a">WT Infected</text>
<circle cx="506.70" cy="810.20" r="2.6" fill="#9fc6ea" stroke="#3a3440" stroke-width="0.4"/>
<text x="517.2" y="814.0999999999999" font-size="12.5" fill="#1a1a1a">WT Contact</text>
</svg></body></html>
